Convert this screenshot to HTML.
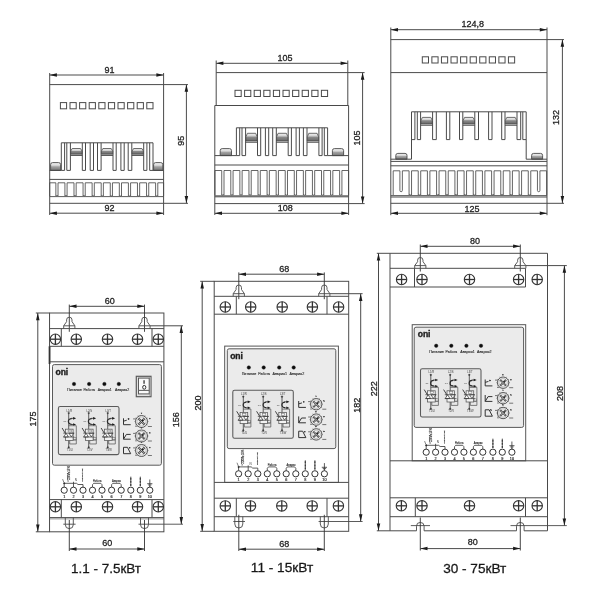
<!DOCTYPE html>
<html><head><meta charset="utf-8"><title>Dimensions</title>
<style>
html,body{margin:0;padding:0;background:#fff;}
body{width:600px;height:600px;overflow:hidden;font-family:"Liberation Sans",sans-serif;}
svg{display:block;font-family:"Liberation Sans",sans-serif;}
</style></head><body>
<svg width="600" height="600" viewBox="0 0 600 600">
<defs>
<linearGradient id="blk" x1="0" y1="0" x2="0" y2="1"><stop offset="0" stop-color="#f4f4f4"/><stop offset="0.35" stop-color="#d0d0d0"/><stop offset="0.5" stop-color="#8a8a8a"/><stop offset="1" stop-color="#666"/></linearGradient>
<linearGradient id="bmp" x1="0" y1="0" x2="0" y2="1"><stop offset="0" stop-color="#f6f6f6"/><stop offset="0.35" stop-color="#d8d8d8"/><stop offset="0.55" stop-color="#a0a0a0"/><stop offset="1" stop-color="#777"/></linearGradient>
<filter id="soft" x="0" y="0" width="600" height="600" filterUnits="userSpaceOnUse"><feGaussianBlur stdDeviation="0.32"/></filter>
</defs>
<rect width="600" height="600" fill="#fff"/>
<g filter="url(#soft)">
<g fill="none" stroke-linecap="butt">
<rect x="49.7" y="84.6" width="113.9" height="118.7" rx="0" fill="none" stroke="#4a4a4a" stroke-width="1"/>
<line x1="49.7" y1="73" x2="49.7" y2="84.6" stroke="#4a4a4a" stroke-width="1"/>
<line x1="163.6" y1="73" x2="163.6" y2="84.6" stroke="#4a4a4a" stroke-width="1"/>
<line x1="49.7" y1="75" x2="163.6" y2="75" stroke="#4a4a4a" stroke-width="1"/>
<polygon points="49.7,75 56.9,73.25 56.9,76.75" fill="#1a1a1a"/>
<polygon points="163.6,75 156.4,73.25 156.4,76.75" fill="#1a1a1a"/>
<text x="109.5" y="72.9" font-size="9" text-anchor="middle" font-weight="normal" fill="#222" stroke="#222" stroke-width="0.28">91</text>
<rect x="60.4" y="102.6" width="6.2" height="6.2" rx="0" fill="none" stroke="#4a4a4a" stroke-width="1"/>
<rect x="70" y="102.6" width="6.2" height="6.2" rx="0" fill="none" stroke="#4a4a4a" stroke-width="1"/>
<rect x="79.6" y="102.6" width="6.2" height="6.2" rx="0" fill="none" stroke="#4a4a4a" stroke-width="1"/>
<rect x="89.2" y="102.6" width="6.2" height="6.2" rx="0" fill="none" stroke="#4a4a4a" stroke-width="1"/>
<rect x="98.8" y="102.6" width="6.2" height="6.2" rx="0" fill="none" stroke="#4a4a4a" stroke-width="1"/>
<rect x="108.4" y="102.6" width="6.2" height="6.2" rx="0" fill="none" stroke="#4a4a4a" stroke-width="1"/>
<rect x="118" y="102.6" width="6.2" height="6.2" rx="0" fill="none" stroke="#4a4a4a" stroke-width="1"/>
<rect x="127.6" y="102.6" width="6.2" height="6.2" rx="0" fill="none" stroke="#4a4a4a" stroke-width="1"/>
<rect x="137.2" y="102.6" width="6.2" height="6.2" rx="0" fill="none" stroke="#4a4a4a" stroke-width="1"/>
<rect x="146.8" y="102.6" width="6.2" height="6.2" rx="0" fill="none" stroke="#4a4a4a" stroke-width="1"/>
<line x1="61.3" y1="142.8" x2="153" y2="142.8" stroke="#4a4a4a" stroke-width="1"/>
<line x1="61.3" y1="142.8" x2="61.3" y2="170.4" stroke="#4a4a4a" stroke-width="1"/>
<line x1="64.6" y1="142.8" x2="64.6" y2="170.4" stroke="#4a4a4a" stroke-width="1"/>
<line x1="61.3" y1="170.4" x2="64.6" y2="170.4" stroke="#4a4a4a" stroke-width="1"/>
<line x1="153" y1="142.8" x2="153" y2="170.4" stroke="#4a4a4a" stroke-width="1"/>
<line x1="149.7" y1="142.8" x2="149.7" y2="170.4" stroke="#4a4a4a" stroke-width="1"/>
<line x1="149.7" y1="170.4" x2="153" y2="170.4" stroke="#4a4a4a" stroke-width="1"/>
<path d="M66.8 142.8V170.4H70.4V142.8" fill="none" stroke="#4a4a4a" stroke-width="1"/>
<path d="M82.3 142.8V170.4H85.5V142.8" fill="none" stroke="#4a4a4a" stroke-width="1"/>
<path d="M90.2 142.8V170.4H93.5V142.8" fill="none" stroke="#4a4a4a" stroke-width="1"/>
<path d="M97.5 142.8V170.4H101.1V142.8" fill="none" stroke="#4a4a4a" stroke-width="1"/>
<path d="M113 142.8V170.4H116.2V142.8" fill="none" stroke="#4a4a4a" stroke-width="1"/>
<path d="M120.9 142.8V170.4H124.2V142.8" fill="none" stroke="#4a4a4a" stroke-width="1"/>
<path d="M128.2 142.8V170.4H131.8V142.8" fill="none" stroke="#4a4a4a" stroke-width="1"/>
<path d="M143.7 142.8V170.4H146.9V142.8" fill="none" stroke="#4a4a4a" stroke-width="1"/>
<path d="M70.7 154.2V151.06L72.2 148.5H80.5L82 151.06V154.2Z" fill="url(#blk)" stroke="#4a4a4a" stroke-width="0.8"/>
<line x1="70.4" y1="155.5" x2="82.3" y2="155.5" stroke="#4a4a4a" stroke-width="0.9"/>
<path d="M101.4 154.2V151.06L102.9 148.5H111.2L112.7 151.06V154.2Z" fill="url(#blk)" stroke="#4a4a4a" stroke-width="0.8"/>
<line x1="101.1" y1="155.5" x2="113" y2="155.5" stroke="#4a4a4a" stroke-width="0.9"/>
<path d="M132.1 154.2V151.06L133.6 148.5H141.9L143.4 151.06V154.2Z" fill="url(#blk)" stroke="#4a4a4a" stroke-width="0.8"/>
<line x1="131.8" y1="155.5" x2="143.7" y2="155.5" stroke="#4a4a4a" stroke-width="0.9"/>
<path d="M50.6 170.4V164.6Q50.6 162.6 52.6 162.6H58.6Q60.6 162.6 60.6 164.6V170.4Z" fill="url(#bmp)" stroke="#4a4a4a" stroke-width="0.9"/>
<path d="M153.6 170.4V164.6Q153.6 162.6 155.6 162.6H160.8Q162.8 162.6 162.8 164.6V170.4Z" fill="url(#bmp)" stroke="#4a4a4a" stroke-width="0.9"/>
<line x1="49.7" y1="170.4" x2="61.3" y2="170.4" stroke="#4a4a4a" stroke-width="1"/>
<line x1="153" y1="170.4" x2="163.6" y2="170.4" stroke="#4a4a4a" stroke-width="1"/>
<line x1="49.7" y1="179.4" x2="163.6" y2="179.4" stroke="#4a4a4a" stroke-width="1"/>
<path d="M49.7 196V182.8H55.85V196" fill="none" stroke="#4a4a4a" stroke-width="0.85"/>
<path d="M55.85 195.2Q56.94 196.6 58.02 195.2" fill="none" stroke="#4a4a4a" stroke-width="0.7"/>
<path d="M58.02 196V182.8H64.92V196" fill="none" stroke="#4a4a4a" stroke-width="0.85"/>
<path d="M64.92 195.2Q66 196.6 67.09 195.2" fill="none" stroke="#4a4a4a" stroke-width="0.7"/>
<path d="M67.09 196V182.8H73.99V196" fill="none" stroke="#4a4a4a" stroke-width="0.85"/>
<path d="M73.99 195.2Q75.08 196.6 76.16 195.2" fill="none" stroke="#4a4a4a" stroke-width="0.7"/>
<path d="M76.16 196V182.8H83.06V196" fill="none" stroke="#4a4a4a" stroke-width="0.85"/>
<path d="M83.06 195.2Q84.14 196.6 85.23 195.2" fill="none" stroke="#4a4a4a" stroke-width="0.7"/>
<path d="M85.23 196V182.8H92.13V196" fill="none" stroke="#4a4a4a" stroke-width="0.85"/>
<path d="M92.13 195.2Q93.22 196.6 94.3 195.2" fill="none" stroke="#4a4a4a" stroke-width="0.7"/>
<path d="M94.3 196V182.8H101.2V196" fill="none" stroke="#4a4a4a" stroke-width="0.85"/>
<path d="M101.2 195.2Q102.29 196.6 103.37 195.2" fill="none" stroke="#4a4a4a" stroke-width="0.7"/>
<path d="M103.37 196V182.8H110.27V196" fill="none" stroke="#4a4a4a" stroke-width="0.85"/>
<path d="M110.27 195.2Q111.36 196.6 112.44 195.2" fill="none" stroke="#4a4a4a" stroke-width="0.7"/>
<path d="M112.44 196V182.8H119.34V196" fill="none" stroke="#4a4a4a" stroke-width="0.85"/>
<path d="M119.34 195.2Q120.42 196.6 121.51 195.2" fill="none" stroke="#4a4a4a" stroke-width="0.7"/>
<path d="M121.51 196V182.8H128.41V196" fill="none" stroke="#4a4a4a" stroke-width="0.85"/>
<path d="M128.41 195.2Q129.5 196.6 130.58 195.2" fill="none" stroke="#4a4a4a" stroke-width="0.7"/>
<path d="M130.58 196V182.8H137.48V196" fill="none" stroke="#4a4a4a" stroke-width="0.85"/>
<path d="M137.48 195.2Q138.56 196.6 139.65 195.2" fill="none" stroke="#4a4a4a" stroke-width="0.7"/>
<path d="M139.65 196V182.8H146.55V196" fill="none" stroke="#4a4a4a" stroke-width="0.85"/>
<path d="M146.55 195.2Q147.64 196.6 148.72 195.2" fill="none" stroke="#4a4a4a" stroke-width="0.7"/>
<path d="M148.72 196V182.8H155.62V196" fill="none" stroke="#4a4a4a" stroke-width="0.85"/>
<path d="M155.62 195.2Q156.71 196.6 157.79 195.2" fill="none" stroke="#4a4a4a" stroke-width="0.7"/>
<path d="M157.79 196V182.8H163.6V196" fill="none" stroke="#4a4a4a" stroke-width="0.85"/>
<line x1="49.7" y1="196.6" x2="163.6" y2="196.6" stroke="#4a4a4a" stroke-width="0.9"/>
<line x1="49.7" y1="203.3" x2="49.7" y2="215" stroke="#4a4a4a" stroke-width="1"/>
<line x1="163.6" y1="203.3" x2="163.6" y2="215" stroke="#4a4a4a" stroke-width="1"/>
<line x1="49.7" y1="213.2" x2="163.6" y2="213.2" stroke="#4a4a4a" stroke-width="1"/>
<polygon points="49.7,213.2 56.9,211.45 56.9,214.95" fill="#1a1a1a"/>
<polygon points="163.6,213.2 156.4,211.45 156.4,214.95" fill="#1a1a1a"/>
<text x="109.6" y="211.3" font-size="9" text-anchor="middle" font-weight="normal" fill="#222" stroke="#222" stroke-width="0.28">92</text>
<line x1="163.6" y1="84.6" x2="188" y2="84.6" stroke="#4a4a4a" stroke-width="1"/>
<line x1="163.6" y1="203.3" x2="188" y2="203.3" stroke="#4a4a4a" stroke-width="1"/>
<line x1="186.4" y1="84.6" x2="186.4" y2="203.3" stroke="#4a4a4a" stroke-width="1"/>
<polygon points="186.4,84.6 184.65,91.8 188.15,91.8" fill="#1a1a1a"/>
<polygon points="186.4,203.3 184.65,196.1 188.15,196.1" fill="#1a1a1a"/>
<text x="183.7" y="140.75" font-size="9" text-anchor="middle" font-weight="normal" fill="#222" transform="rotate(-90 183.7 140.75)" stroke="#222" stroke-width="0.28">95</text>
<line x1="216.2" y1="72.6" x2="347.8" y2="72.6" stroke="#4a4a4a" stroke-width="1"/>
<line x1="216.2" y1="60.5" x2="216.2" y2="105.5" stroke="#4a4a4a" stroke-width="1"/>
<line x1="347.8" y1="60.5" x2="347.8" y2="105.5" stroke="#4a4a4a" stroke-width="1"/>
<line x1="214.8" y1="105.5" x2="348.6" y2="105.5" stroke="#4a4a4a" stroke-width="1"/>
<line x1="214.8" y1="105.5" x2="214.8" y2="215" stroke="#4a4a4a" stroke-width="1"/>
<line x1="348.6" y1="105.5" x2="348.6" y2="215" stroke="#4a4a4a" stroke-width="1"/>
<line x1="214.8" y1="203.6" x2="348.6" y2="203.6" stroke="#4a4a4a" stroke-width="1"/>
<line x1="216.2" y1="63.3" x2="347.8" y2="63.3" stroke="#4a4a4a" stroke-width="1"/>
<polygon points="216.2,63.3 223.4,61.55 223.4,65.05" fill="#1a1a1a"/>
<polygon points="347.8,63.3 340.6,61.55 340.6,65.05" fill="#1a1a1a"/>
<text x="285.1" y="60.7" font-size="9" text-anchor="middle" font-weight="normal" fill="#222" stroke="#222" stroke-width="0.28">105</text>
<rect x="235" y="90.3" width="6.2" height="6.2" rx="0" fill="none" stroke="#4a4a4a" stroke-width="1"/>
<rect x="244.6" y="90.3" width="6.2" height="6.2" rx="0" fill="none" stroke="#4a4a4a" stroke-width="1"/>
<rect x="254.2" y="90.3" width="6.2" height="6.2" rx="0" fill="none" stroke="#4a4a4a" stroke-width="1"/>
<rect x="263.8" y="90.3" width="6.2" height="6.2" rx="0" fill="none" stroke="#4a4a4a" stroke-width="1"/>
<rect x="273.4" y="90.3" width="6.2" height="6.2" rx="0" fill="none" stroke="#4a4a4a" stroke-width="1"/>
<rect x="283" y="90.3" width="6.2" height="6.2" rx="0" fill="none" stroke="#4a4a4a" stroke-width="1"/>
<rect x="292.6" y="90.3" width="6.2" height="6.2" rx="0" fill="none" stroke="#4a4a4a" stroke-width="1"/>
<rect x="302.2" y="90.3" width="6.2" height="6.2" rx="0" fill="none" stroke="#4a4a4a" stroke-width="1"/>
<rect x="311.8" y="90.3" width="6.2" height="6.2" rx="0" fill="none" stroke="#4a4a4a" stroke-width="1"/>
<rect x="321.4" y="90.3" width="6.2" height="6.2" rx="0" fill="none" stroke="#4a4a4a" stroke-width="1"/>
<line x1="236.4" y1="127.8" x2="327.6" y2="127.8" stroke="#4a4a4a" stroke-width="1"/>
<line x1="236.4" y1="127.8" x2="236.4" y2="155.6" stroke="#4a4a4a" stroke-width="1"/>
<line x1="239.7" y1="127.8" x2="239.7" y2="155.6" stroke="#4a4a4a" stroke-width="1"/>
<line x1="236.4" y1="155.6" x2="239.7" y2="155.6" stroke="#4a4a4a" stroke-width="1"/>
<line x1="327.6" y1="127.8" x2="327.6" y2="155.6" stroke="#4a4a4a" stroke-width="1"/>
<line x1="324.3" y1="127.8" x2="324.3" y2="155.6" stroke="#4a4a4a" stroke-width="1"/>
<line x1="324.3" y1="155.6" x2="327.6" y2="155.6" stroke="#4a4a4a" stroke-width="1"/>
<path d="M242 127.8V155.6H245.6V127.8" fill="none" stroke="#4a4a4a" stroke-width="1"/>
<path d="M257.5 127.8V155.6H260.7V127.8" fill="none" stroke="#4a4a4a" stroke-width="1"/>
<path d="M265.4 127.8V155.6H268.7V127.8" fill="none" stroke="#4a4a4a" stroke-width="1"/>
<path d="M272.7 127.8V155.6H276.3V127.8" fill="none" stroke="#4a4a4a" stroke-width="1"/>
<path d="M288.2 127.8V155.6H291.4V127.8" fill="none" stroke="#4a4a4a" stroke-width="1"/>
<path d="M296.1 127.8V155.6H299.4V127.8" fill="none" stroke="#4a4a4a" stroke-width="1"/>
<path d="M303.4 127.8V155.6H307V127.8" fill="none" stroke="#4a4a4a" stroke-width="1"/>
<path d="M318.9 127.8V155.6H322.1V127.8" fill="none" stroke="#4a4a4a" stroke-width="1"/>
<path d="M245.9 141V136.77L247.4 133.3H255.7L257.2 136.77V141Z" fill="url(#blk)" stroke="#4a4a4a" stroke-width="0.8"/>
<line x1="245.6" y1="142.3" x2="257.5" y2="142.3" stroke="#4a4a4a" stroke-width="0.9"/>
<path d="M276.6 141V136.77L278.1 133.3H286.4L287.9 136.77V141Z" fill="url(#blk)" stroke="#4a4a4a" stroke-width="0.8"/>
<line x1="276.3" y1="142.3" x2="288.2" y2="142.3" stroke="#4a4a4a" stroke-width="0.9"/>
<path d="M307.3 141V136.77L308.8 133.3H317.1L318.6 136.77V141Z" fill="url(#blk)" stroke="#4a4a4a" stroke-width="0.8"/>
<line x1="307" y1="142.3" x2="318.9" y2="142.3" stroke="#4a4a4a" stroke-width="0.9"/>
<path d="M220.2 155.6V150.6Q220.2 148.6 222.2 148.6H229.5Q231.5 148.6 231.5 150.6V155.6Z" fill="url(#bmp)" stroke="#4a4a4a" stroke-width="0.9"/>
<path d="M332.4 155.6V150.6Q332.4 148.6 334.4 148.6H341.6Q343.6 148.6 343.6 150.6V155.6Z" fill="url(#bmp)" stroke="#4a4a4a" stroke-width="0.9"/>
<line x1="214.8" y1="155.6" x2="236.4" y2="155.6" stroke="#4a4a4a" stroke-width="1"/>
<line x1="327.6" y1="155.6" x2="348.6" y2="155.6" stroke="#4a4a4a" stroke-width="1"/>
<line x1="214.8" y1="165" x2="348.6" y2="165" stroke="#4a4a4a" stroke-width="1"/>
<path d="M214.93 195.2V170.5H221.73V195.2" fill="none" stroke="#4a4a4a" stroke-width="0.85"/>
<path d="M221.73 194.4Q222.87 195.8 224 194.4" fill="none" stroke="#4a4a4a" stroke-width="0.7"/>
<path d="M224 195.2V170.5H230.8V195.2" fill="none" stroke="#4a4a4a" stroke-width="0.85"/>
<path d="M230.8 194.4Q231.94 195.8 233.07 194.4" fill="none" stroke="#4a4a4a" stroke-width="0.7"/>
<path d="M233.07 195.2V170.5H239.87V195.2" fill="none" stroke="#4a4a4a" stroke-width="0.85"/>
<path d="M239.87 194.4Q241 195.8 242.14 194.4" fill="none" stroke="#4a4a4a" stroke-width="0.7"/>
<path d="M242.14 195.2V170.5H248.94V195.2" fill="none" stroke="#4a4a4a" stroke-width="0.85"/>
<path d="M248.94 194.4Q250.08 195.8 251.21 194.4" fill="none" stroke="#4a4a4a" stroke-width="0.7"/>
<path d="M251.21 195.2V170.5H258.01V195.2" fill="none" stroke="#4a4a4a" stroke-width="0.85"/>
<path d="M258.01 194.4Q259.14 195.8 260.28 194.4" fill="none" stroke="#4a4a4a" stroke-width="0.7"/>
<path d="M260.28 195.2V170.5H267.08V195.2" fill="none" stroke="#4a4a4a" stroke-width="0.85"/>
<path d="M267.08 194.4Q268.22 195.8 269.35 194.4" fill="none" stroke="#4a4a4a" stroke-width="0.7"/>
<path d="M269.35 195.2V170.5H276.15V195.2" fill="none" stroke="#4a4a4a" stroke-width="0.85"/>
<path d="M276.15 194.4Q277.29 195.8 278.42 194.4" fill="none" stroke="#4a4a4a" stroke-width="0.7"/>
<path d="M278.42 195.2V170.5H285.22V195.2" fill="none" stroke="#4a4a4a" stroke-width="0.85"/>
<path d="M285.22 194.4Q286.36 195.8 287.49 194.4" fill="none" stroke="#4a4a4a" stroke-width="0.7"/>
<path d="M287.49 195.2V170.5H294.29V195.2" fill="none" stroke="#4a4a4a" stroke-width="0.85"/>
<path d="M294.29 194.4Q295.43 195.8 296.56 194.4" fill="none" stroke="#4a4a4a" stroke-width="0.7"/>
<path d="M296.56 195.2V170.5H303.36V195.2" fill="none" stroke="#4a4a4a" stroke-width="0.85"/>
<path d="M303.36 194.4Q304.5 195.8 305.63 194.4" fill="none" stroke="#4a4a4a" stroke-width="0.7"/>
<path d="M305.63 195.2V170.5H312.43V195.2" fill="none" stroke="#4a4a4a" stroke-width="0.85"/>
<path d="M312.43 194.4Q313.56 195.8 314.7 194.4" fill="none" stroke="#4a4a4a" stroke-width="0.7"/>
<path d="M314.7 195.2V170.5H321.5V195.2" fill="none" stroke="#4a4a4a" stroke-width="0.85"/>
<path d="M321.5 194.4Q322.64 195.8 323.77 194.4" fill="none" stroke="#4a4a4a" stroke-width="0.7"/>
<path d="M323.77 195.2V170.5H330.57V195.2" fill="none" stroke="#4a4a4a" stroke-width="0.85"/>
<path d="M330.57 194.4Q331.7 195.8 332.84 194.4" fill="none" stroke="#4a4a4a" stroke-width="0.7"/>
<path d="M332.84 195.2V170.5H339.64V195.2" fill="none" stroke="#4a4a4a" stroke-width="0.85"/>
<path d="M339.64 194.4Q340.78 195.8 341.91 194.4" fill="none" stroke="#4a4a4a" stroke-width="0.7"/>
<path d="M341.91 195.2V170.5H348.6V195.2" fill="none" stroke="#4a4a4a" stroke-width="0.85"/>
<line x1="214.8" y1="195.8" x2="348.6" y2="195.8" stroke="#4a4a4a" stroke-width="0.9"/>
<line x1="214.8" y1="196.8" x2="348.6" y2="196.8" stroke="#4a4a4a" stroke-width="1"/>
<line x1="214.8" y1="213.3" x2="348.6" y2="213.3" stroke="#4a4a4a" stroke-width="1"/>
<polygon points="214.8,213.3 222,211.55 222,215.05" fill="#1a1a1a"/>
<polygon points="348.6,213.3 341.4,211.55 341.4,215.05" fill="#1a1a1a"/>
<text x="285.2" y="211.3" font-size="9" text-anchor="middle" font-weight="normal" fill="#222" stroke="#222" stroke-width="0.28">108</text>
<line x1="347.8" y1="72.6" x2="364.6" y2="72.6" stroke="#4a4a4a" stroke-width="1"/>
<line x1="348.6" y1="203.6" x2="364.6" y2="203.6" stroke="#4a4a4a" stroke-width="1"/>
<line x1="362.6" y1="72.6" x2="362.6" y2="203.6" stroke="#4a4a4a" stroke-width="1"/>
<polygon points="362.6,72.6 360.85,79.8 364.35,79.8" fill="#1a1a1a"/>
<polygon points="362.6,203.6 360.85,196.4 364.35,196.4" fill="#1a1a1a"/>
<text x="360.2" y="138" font-size="9" text-anchor="middle" font-weight="normal" fill="#222" transform="rotate(-90 360.2 138)" stroke="#222" stroke-width="0.28">105</text>
<rect x="390.8" y="39.6" width="156.2" height="163.7" rx="0" fill="none" stroke="#4a4a4a" stroke-width="1"/>
<line x1="390.8" y1="27.5" x2="390.8" y2="39.6" stroke="#4a4a4a" stroke-width="1"/>
<line x1="547" y1="27.5" x2="547" y2="39.6" stroke="#4a4a4a" stroke-width="1"/>
<line x1="390.8" y1="29.7" x2="547" y2="29.7" stroke="#4a4a4a" stroke-width="1"/>
<polygon points="390.8,29.7 398,27.95 398,31.45" fill="#1a1a1a"/>
<polygon points="547,29.7 539.8,27.95 539.8,31.45" fill="#1a1a1a"/>
<text x="472.85" y="27.4" font-size="9" text-anchor="middle" font-weight="normal" fill="#222" stroke="#222" stroke-width="0.28">124,8</text>
<line x1="390.8" y1="72.6" x2="547" y2="72.6" stroke="#4a4a4a" stroke-width="1"/>
<rect x="422.3" y="56.8" width="6.2" height="6.2" rx="0" fill="none" stroke="#4a4a4a" stroke-width="1"/>
<rect x="431.87" y="56.8" width="6.2" height="6.2" rx="0" fill="none" stroke="#4a4a4a" stroke-width="1"/>
<rect x="441.44" y="56.8" width="6.2" height="6.2" rx="0" fill="none" stroke="#4a4a4a" stroke-width="1"/>
<rect x="451.01" y="56.8" width="6.2" height="6.2" rx="0" fill="none" stroke="#4a4a4a" stroke-width="1"/>
<rect x="460.58" y="56.8" width="6.2" height="6.2" rx="0" fill="none" stroke="#4a4a4a" stroke-width="1"/>
<rect x="470.15" y="56.8" width="6.2" height="6.2" rx="0" fill="none" stroke="#4a4a4a" stroke-width="1"/>
<rect x="479.72" y="56.8" width="6.2" height="6.2" rx="0" fill="none" stroke="#4a4a4a" stroke-width="1"/>
<rect x="489.29" y="56.8" width="6.2" height="6.2" rx="0" fill="none" stroke="#4a4a4a" stroke-width="1"/>
<rect x="498.86" y="56.8" width="6.2" height="6.2" rx="0" fill="none" stroke="#4a4a4a" stroke-width="1"/>
<rect x="508.43" y="56.8" width="6.2" height="6.2" rx="0" fill="none" stroke="#4a4a4a" stroke-width="1"/>
<line x1="411.5" y1="111.8" x2="526.2" y2="111.8" stroke="#4a4a4a" stroke-width="1"/>
<line x1="411.5" y1="111.8" x2="411.5" y2="159.2" stroke="#4a4a4a" stroke-width="1"/>
<line x1="414.9" y1="111.8" x2="414.9" y2="139.6" stroke="#4a4a4a" stroke-width="1"/>
<line x1="411.7" y1="139.6" x2="414.9" y2="139.6" stroke="#4a4a4a" stroke-width="1"/>
<line x1="526.2" y1="111.8" x2="526.2" y2="159.2" stroke="#4a4a4a" stroke-width="1"/>
<line x1="522.8" y1="111.8" x2="522.8" y2="139.6" stroke="#4a4a4a" stroke-width="1"/>
<line x1="522.8" y1="139.6" x2="526" y2="139.6" stroke="#4a4a4a" stroke-width="1"/>
<path d="M417.3 111.8V139.6H420.6V111.8" fill="none" stroke="#4a4a4a" stroke-width="1"/>
<path d="M432.6 111.8V139.6H436.3V111.8" fill="none" stroke="#4a4a4a" stroke-width="1"/>
<path d="M446.4 111.8V139.6H449.8V111.8" fill="none" stroke="#4a4a4a" stroke-width="1"/>
<path d="M459.5 111.8V139.6H462.8V111.8" fill="none" stroke="#4a4a4a" stroke-width="1"/>
<path d="M474.8 111.8V139.6H478.5V111.8" fill="none" stroke="#4a4a4a" stroke-width="1"/>
<path d="M488.6 111.8V139.6H492V111.8" fill="none" stroke="#4a4a4a" stroke-width="1"/>
<path d="M501.7 111.8V139.6H505V111.8" fill="none" stroke="#4a4a4a" stroke-width="1"/>
<path d="M517 111.8V139.6H520.7V111.8" fill="none" stroke="#4a4a4a" stroke-width="1"/>
<path d="M420.9 124V120.37L422.4 117.4H430.8L432.3 120.37V124Z" fill="url(#blk)" stroke="#4a4a4a" stroke-width="0.8"/>
<line x1="420.6" y1="125.3" x2="432.6" y2="125.3" stroke="#4a4a4a" stroke-width="0.9"/>
<path d="M463.1 124V120.37L464.6 117.4H473L474.5 120.37V124Z" fill="url(#blk)" stroke="#4a4a4a" stroke-width="0.8"/>
<line x1="462.8" y1="125.3" x2="474.8" y2="125.3" stroke="#4a4a4a" stroke-width="0.9"/>
<path d="M505.3 124V120.37L506.8 117.4H515.2L516.7 120.37V124Z" fill="url(#blk)" stroke="#4a4a4a" stroke-width="0.8"/>
<line x1="505" y1="125.3" x2="517" y2="125.3" stroke="#4a4a4a" stroke-width="0.9"/>
<path d="M395.8 159.2V155.4Q395.8 153.4 397.8 153.4H405Q407 153.4 407 155.4V159.2Z" fill="url(#bmp)" stroke="#4a4a4a" stroke-width="0.9"/>
<path d="M531.6 159.2V155.4Q531.6 153.4 533.6 153.4H540.6Q542.6 153.4 542.6 155.4V159.2Z" fill="url(#bmp)" stroke="#4a4a4a" stroke-width="0.9"/>
<line x1="390.8" y1="159.2" x2="411.5" y2="159.2" stroke="#4a4a4a" stroke-width="1"/>
<line x1="526.2" y1="159.2" x2="547" y2="159.2" stroke="#4a4a4a" stroke-width="1"/>
<line x1="390.8" y1="161.4" x2="547" y2="161.4" stroke="#4a4a4a" stroke-width="1"/>
<line x1="390.8" y1="165.8" x2="547" y2="165.8" stroke="#4a4a4a" stroke-width="1"/>
<path d="M393.2 195V170.8H399.9V190.46A1.23 1.23 0 0 0 402.37 190.46V170.8H409.07V195" fill="none" stroke="#4a4a4a" stroke-width="0.85"/>
<path d="M409.07 194.2Q410.31 195.6 411.54 194.2" fill="none" stroke="#4a4a4a" stroke-width="0.7"/>
<path d="M411.54 195V170.8H418.24V195" fill="none" stroke="#4a4a4a" stroke-width="0.85"/>
<path d="M418.24 194.2Q419.47 195.6 420.71 194.2" fill="none" stroke="#4a4a4a" stroke-width="0.7"/>
<path d="M420.71 195V170.8H427.41V195" fill="none" stroke="#4a4a4a" stroke-width="0.85"/>
<path d="M427.41 194.2Q428.64 195.6 429.88 194.2" fill="none" stroke="#4a4a4a" stroke-width="0.7"/>
<path d="M429.88 195V170.8H436.58V195" fill="none" stroke="#4a4a4a" stroke-width="0.85"/>
<path d="M436.58 194.2Q437.81 195.6 439.05 194.2" fill="none" stroke="#4a4a4a" stroke-width="0.7"/>
<path d="M439.05 195V170.8H445.75V195" fill="none" stroke="#4a4a4a" stroke-width="0.85"/>
<path d="M445.75 194.2Q446.99 195.6 448.22 194.2" fill="none" stroke="#4a4a4a" stroke-width="0.7"/>
<path d="M448.22 195V170.8H454.92V195" fill="none" stroke="#4a4a4a" stroke-width="0.85"/>
<path d="M454.92 194.2Q456.15 195.6 457.39 194.2" fill="none" stroke="#4a4a4a" stroke-width="0.7"/>
<path d="M457.39 195V170.8H464.09V195" fill="none" stroke="#4a4a4a" stroke-width="0.85"/>
<path d="M464.09 194.2Q465.32 195.6 466.56 194.2" fill="none" stroke="#4a4a4a" stroke-width="0.7"/>
<path d="M466.56 195V170.8H473.26V195" fill="none" stroke="#4a4a4a" stroke-width="0.85"/>
<path d="M473.26 194.2Q474.5 195.6 475.73 194.2" fill="none" stroke="#4a4a4a" stroke-width="0.7"/>
<path d="M475.73 195V170.8H482.43V195" fill="none" stroke="#4a4a4a" stroke-width="0.85"/>
<path d="M482.43 194.2Q483.67 195.6 484.9 194.2" fill="none" stroke="#4a4a4a" stroke-width="0.7"/>
<path d="M484.9 195V170.8H491.6V195" fill="none" stroke="#4a4a4a" stroke-width="0.85"/>
<path d="M491.6 194.2Q492.83 195.6 494.07 194.2" fill="none" stroke="#4a4a4a" stroke-width="0.7"/>
<path d="M494.07 195V170.8H500.77V195" fill="none" stroke="#4a4a4a" stroke-width="0.85"/>
<path d="M500.77 194.2Q502 195.6 503.24 194.2" fill="none" stroke="#4a4a4a" stroke-width="0.7"/>
<path d="M503.24 195V170.8H509.94V195" fill="none" stroke="#4a4a4a" stroke-width="0.85"/>
<path d="M509.94 194.2Q511.18 195.6 512.41 194.2" fill="none" stroke="#4a4a4a" stroke-width="0.7"/>
<path d="M512.41 195V170.8H519.11V195" fill="none" stroke="#4a4a4a" stroke-width="0.85"/>
<path d="M519.11 194.2Q520.35 195.6 521.58 194.2" fill="none" stroke="#4a4a4a" stroke-width="0.7"/>
<path d="M521.58 195V170.8H528.28V195" fill="none" stroke="#4a4a4a" stroke-width="0.85"/>
<path d="M528.28 194.2Q529.51 195.6 530.75 194.2" fill="none" stroke="#4a4a4a" stroke-width="0.7"/>
<path d="M530.75 195V170.8H537.45V190.46A1.23 1.23 0 0 0 539.92 190.46V170.8H546.62V195" fill="none" stroke="#4a4a4a" stroke-width="0.85"/>
<line x1="390.8" y1="195.6" x2="547" y2="195.6" stroke="#4a4a4a" stroke-width="0.9"/>
<line x1="390.8" y1="197" x2="547" y2="197" stroke="#4a4a4a" stroke-width="1"/>
<line x1="390.8" y1="203.3" x2="390.8" y2="215.2" stroke="#4a4a4a" stroke-width="1"/>
<line x1="547" y1="203.3" x2="547" y2="215.2" stroke="#4a4a4a" stroke-width="1"/>
<line x1="390.8" y1="213.3" x2="547" y2="213.3" stroke="#4a4a4a" stroke-width="1"/>
<polygon points="390.8,213.3 398,211.55 398,215.05" fill="#1a1a1a"/>
<polygon points="547,213.3 539.8,211.55 539.8,215.05" fill="#1a1a1a"/>
<text x="471.9" y="211.5" font-size="9" text-anchor="middle" font-weight="normal" fill="#222" stroke="#222" stroke-width="0.28">125</text>
<line x1="547" y1="39.6" x2="564" y2="39.6" stroke="#4a4a4a" stroke-width="1"/>
<line x1="547" y1="203.3" x2="564" y2="203.3" stroke="#4a4a4a" stroke-width="1"/>
<line x1="562.4" y1="39.6" x2="562.4" y2="203.3" stroke="#4a4a4a" stroke-width="1"/>
<polygon points="562.4,39.6 560.65,46.8 564.15,46.8" fill="#1a1a1a"/>
<polygon points="562.4,203.3 560.65,196.1 564.15,196.1" fill="#1a1a1a"/>
<text x="559.2" y="117.5" font-size="9" text-anchor="middle" font-weight="normal" fill="#222" transform="rotate(-90 559.2 117.5)" stroke="#222" stroke-width="0.28">132</text>
</g>
<g fill="none">
<rect x="49.55" y="313" width="114.35" height="218.8" rx="0" fill="none" stroke="#4a4a4a" stroke-width="1"/>
<line x1="49.55" y1="346.3" x2="49.55" y2="364" stroke="#333" stroke-width="1.8"/>
<line x1="69.3" y1="304.6" x2="69.3" y2="331.8" stroke="#333" stroke-width="0.9"/>
<line x1="144.5" y1="304.6" x2="144.5" y2="331.8" stroke="#333" stroke-width="0.9"/>
<line x1="69.3" y1="306.3" x2="144.5" y2="306.3" stroke="#4a4a4a" stroke-width="1"/>
<polygon points="69.3,306.3 76.5,304.55 76.5,308.05" fill="#1a1a1a"/>
<polygon points="144.5,306.3 137.3,304.55 137.3,308.05" fill="#1a1a1a"/>
<text x="109.85" y="304.2" font-size="9" text-anchor="middle" font-weight="normal" fill="#222" stroke="#222" stroke-width="0.28">60</text>
<path d="M63.7 325.8L66.6 321.67V319.9A2.7 2.7 0 0 1 72 319.9V321.67L74.9 325.8Z" fill="none" stroke="#4a4a4a" stroke-width="0.9"/>
<line x1="63.7" y1="325.8" x2="63.7" y2="328.6" stroke="#4a4a4a" stroke-width="0.9"/>
<line x1="74.9" y1="325.8" x2="74.9" y2="328.6" stroke="#4a4a4a" stroke-width="0.9"/>
<path d="M138.9 325.8L141.8 321.67V319.9A2.7 2.7 0 0 1 147.2 319.9V321.67L150.1 325.8Z" fill="none" stroke="#4a4a4a" stroke-width="0.9"/>
<line x1="138.9" y1="325.8" x2="138.9" y2="328.6" stroke="#4a4a4a" stroke-width="0.9"/>
<line x1="150.1" y1="325.8" x2="150.1" y2="328.6" stroke="#4a4a4a" stroke-width="0.9"/>
<line x1="150.1" y1="325.8" x2="183" y2="325.8" stroke="#4a4a4a" stroke-width="1"/>
<line x1="49.55" y1="328.6" x2="163.9" y2="328.6" stroke="#4a4a4a" stroke-width="1"/>
<line x1="49.55" y1="346.3" x2="163.9" y2="346.3" stroke="#4a4a4a" stroke-width="1"/>
<line x1="61.3" y1="328.6" x2="61.3" y2="346.3" stroke="#4a4a4a" stroke-width="1"/>
<line x1="152" y1="328.6" x2="152" y2="346.3" stroke="#4a4a4a" stroke-width="1"/>
<circle cx="55.4" cy="339.2" r="5.2" fill="none" stroke="#333" stroke-width="1.1"/>
<line x1="50.2" y1="339.2" x2="60.6" y2="339.2" stroke="#333" stroke-width="1.3"/>
<line x1="55.4" y1="334" x2="55.4" y2="344.4" stroke="#333" stroke-width="1.3"/>
<circle cx="76.3" cy="339.2" r="5.2" fill="none" stroke="#333" stroke-width="1.1"/>
<line x1="71.1" y1="339.2" x2="81.5" y2="339.2" stroke="#333" stroke-width="1.3"/>
<line x1="76.3" y1="334" x2="76.3" y2="344.4" stroke="#333" stroke-width="1.3"/>
<circle cx="107.5" cy="339.2" r="5.2" fill="none" stroke="#333" stroke-width="1.1"/>
<line x1="102.3" y1="339.2" x2="112.7" y2="339.2" stroke="#333" stroke-width="1.3"/>
<line x1="107.5" y1="334" x2="107.5" y2="344.4" stroke="#333" stroke-width="1.3"/>
<circle cx="137.5" cy="339.2" r="5.2" fill="none" stroke="#333" stroke-width="1.1"/>
<line x1="132.3" y1="339.2" x2="142.7" y2="339.2" stroke="#333" stroke-width="1.3"/>
<line x1="137.5" y1="334" x2="137.5" y2="344.4" stroke="#333" stroke-width="1.3"/>
<circle cx="158.3" cy="339.2" r="5.2" fill="none" stroke="#333" stroke-width="1.1"/>
<line x1="153.1" y1="339.2" x2="163.5" y2="339.2" stroke="#333" stroke-width="1.3"/>
<line x1="158.3" y1="334" x2="158.3" y2="344.4" stroke="#333" stroke-width="1.3"/>
<line x1="49.55" y1="361.8" x2="163.9" y2="361.8" stroke="#4a4a4a" stroke-width="1"/>
<rect x="52.5" y="364.6" width="108.9" height="100.6" rx="1.8" fill="#ebebeb" stroke="#5a5a5a" stroke-width="1"/>
<text x="55.6" y="374.5" font-size="8.6" text-anchor="start" font-weight="bold" fill="#1c1c1c" letter-spacing="-0.15" stroke="#1c1c1c" stroke-width="0.35">oni</text>
<circle cx="74" cy="384" r="1.75" fill="#111" stroke="#111" stroke-width="0.4"/>
<circle cx="89.1" cy="384" r="1.75" fill="#111" stroke="#111" stroke-width="0.4"/>
<circle cx="104.4" cy="384" r="1.75" fill="#111" stroke="#111" stroke-width="0.4"/>
<circle cx="118.8" cy="384" r="1.75" fill="#111" stroke="#111" stroke-width="0.4"/>
<text x="67" y="391" font-size="3.9" text-anchor="start" font-weight="normal" fill="#2a2a2a" textLength="14.7" lengthAdjust="spacingAndGlyphs" stroke="#2a2a2a" stroke-width="0.12">Питание</text>
<text x="83.4" y="391" font-size="3.9" text-anchor="start" font-weight="normal" fill="#2a2a2a" textLength="11.6" lengthAdjust="spacingAndGlyphs" stroke="#2a2a2a" stroke-width="0.12">Работа</text>
<text x="97.7" y="391" font-size="3.9" text-anchor="start" font-weight="normal" fill="#2a2a2a" textLength="14" lengthAdjust="spacingAndGlyphs" stroke="#2a2a2a" stroke-width="0.12">Авария1</text>
<text x="115" y="391" font-size="3.9" text-anchor="start" font-weight="normal" fill="#2a2a2a" textLength="14.2" lengthAdjust="spacingAndGlyphs" stroke="#2a2a2a" stroke-width="0.12">Авария2</text>
<rect x="58.4" y="406.4" width="60.6" height="48.2" rx="1.8" fill="#e7e7e7" stroke="#5a5a5a" stroke-width="1.05"/>
<line x1="68.7" y1="413" x2="68.7" y2="447.4" stroke="#3a3a3a" stroke-width="0.8"/>
<circle cx="68.7" cy="413" r="0.85" fill="#3a3a3a" stroke="#3a3a3a" stroke-width="0.3"/>
<circle cx="68.7" cy="447.4" r="0.85" fill="#3a3a3a" stroke="#3a3a3a" stroke-width="0.3"/>
<path d="M71.7 418.63A3.2 2.8 0 1 0 71.7 424.22" fill="none" stroke="#2a2a2a" stroke-width="1.15"/>
<line x1="71.1" y1="418.33" x2="73.7" y2="418.33" stroke="#2a2a2a" stroke-width="0.8"/>
<line x1="71.1" y1="424.52" x2="73.7" y2="424.52" stroke="#2a2a2a" stroke-width="0.8"/>
<polygon points="76.1,418.33 73.1,417.03 73.1,419.63" fill="#1a1a1a"/>
<polygon points="76.1,424.52 73.1,423.22 73.1,425.82" fill="#1a1a1a"/>
<text x="66.4" y="422.33" font-size="2.3" text-anchor="end" font-weight="normal" fill="#444">CT</text>
<path d="M68.7 425.73H76.3V443.96H69.7V439.76H76.3" fill="none" stroke="#555" stroke-width="0.75"/>
<rect x="65.5" y="429.17" width="7.6" height="11.35" rx="0" fill="#f2f2f2" stroke="#555" stroke-width="0.75"/>
<polygon points="63.7,436.94 66.1,433.24 68.4,436.94" fill="#fff" stroke="#333" stroke-width="0.7"/>
<polygon points="69,433.24 73.7,433.24 71.3,436.94" fill="#fff" stroke="#333" stroke-width="0.7"/>
<line x1="63.3" y1="433.14" x2="74.3" y2="433.14" stroke="#333" stroke-width="0.7"/>
<line x1="63.3" y1="437.04" x2="74.3" y2="437.04" stroke="#333" stroke-width="0.7"/>
<line x1="62.1" y1="427.97" x2="65.3" y2="433.24" stroke="#444" stroke-width="1"/>
<rect x="68.1" y="430.07" width="3.2" height="1.9" rx="0" fill="none" stroke="#666" stroke-width="0.5"/>
<rect x="73.3" y="437.32" width="2.8" height="2.8" rx="0" fill="none" stroke="#666" stroke-width="0.5"/>
<text x="69.3" y="411.5" font-size="2.7" text-anchor="middle" font-weight="normal" fill="#333">L1/R</text>
<text x="69.7" y="451" font-size="2.7" text-anchor="middle" font-weight="normal" fill="#333">T1/U</text>
<line x1="88.7" y1="413" x2="88.7" y2="447.4" stroke="#3a3a3a" stroke-width="0.8"/>
<circle cx="88.7" cy="413" r="0.85" fill="#3a3a3a" stroke="#3a3a3a" stroke-width="0.3"/>
<circle cx="88.7" cy="447.4" r="0.85" fill="#3a3a3a" stroke="#3a3a3a" stroke-width="0.3"/>
<path d="M91.7 418.63A3.2 2.8 0 1 0 91.7 424.22" fill="none" stroke="#2a2a2a" stroke-width="1.15"/>
<line x1="91.1" y1="418.33" x2="93.7" y2="418.33" stroke="#2a2a2a" stroke-width="0.8"/>
<line x1="91.1" y1="424.52" x2="93.7" y2="424.52" stroke="#2a2a2a" stroke-width="0.8"/>
<polygon points="96.1,418.33 93.1,417.03 93.1,419.63" fill="#1a1a1a"/>
<polygon points="96.1,424.52 93.1,423.22 93.1,425.82" fill="#1a1a1a"/>
<text x="86.4" y="422.33" font-size="2.3" text-anchor="end" font-weight="normal" fill="#444">CT</text>
<path d="M88.7 425.73H96.3V443.96H89.7V439.76H96.3" fill="none" stroke="#555" stroke-width="0.75"/>
<rect x="85.5" y="429.17" width="7.6" height="11.35" rx="0" fill="#f2f2f2" stroke="#555" stroke-width="0.75"/>
<polygon points="83.7,436.94 86.1,433.24 88.4,436.94" fill="#fff" stroke="#333" stroke-width="0.7"/>
<polygon points="89,433.24 93.7,433.24 91.3,436.94" fill="#fff" stroke="#333" stroke-width="0.7"/>
<line x1="83.3" y1="433.14" x2="94.3" y2="433.14" stroke="#333" stroke-width="0.7"/>
<line x1="83.3" y1="437.04" x2="94.3" y2="437.04" stroke="#333" stroke-width="0.7"/>
<line x1="82.1" y1="427.97" x2="85.3" y2="433.24" stroke="#444" stroke-width="1"/>
<rect x="88.1" y="430.07" width="3.2" height="1.9" rx="0" fill="none" stroke="#666" stroke-width="0.5"/>
<rect x="93.3" y="437.32" width="2.8" height="2.8" rx="0" fill="none" stroke="#666" stroke-width="0.5"/>
<text x="89.3" y="411.5" font-size="2.7" text-anchor="middle" font-weight="normal" fill="#333">L2/S</text>
<text x="89.7" y="451" font-size="2.7" text-anchor="middle" font-weight="normal" fill="#333">T2/V</text>
<line x1="107.7" y1="413" x2="107.7" y2="447.4" stroke="#3a3a3a" stroke-width="0.8"/>
<circle cx="107.7" cy="413" r="0.85" fill="#3a3a3a" stroke="#3a3a3a" stroke-width="0.3"/>
<circle cx="107.7" cy="447.4" r="0.85" fill="#3a3a3a" stroke="#3a3a3a" stroke-width="0.3"/>
<path d="M110.7 418.63A3.2 2.8 0 1 0 110.7 424.22" fill="none" stroke="#2a2a2a" stroke-width="1.15"/>
<line x1="110.1" y1="418.33" x2="112.7" y2="418.33" stroke="#2a2a2a" stroke-width="0.8"/>
<line x1="110.1" y1="424.52" x2="112.7" y2="424.52" stroke="#2a2a2a" stroke-width="0.8"/>
<polygon points="115.1,418.33 112.1,417.03 112.1,419.63" fill="#1a1a1a"/>
<polygon points="115.1,424.52 112.1,423.22 112.1,425.82" fill="#1a1a1a"/>
<text x="105.4" y="422.33" font-size="2.3" text-anchor="end" font-weight="normal" fill="#444">CT</text>
<path d="M107.7 425.73H115.3V443.96H108.7V439.76H115.3" fill="none" stroke="#555" stroke-width="0.75"/>
<rect x="104.5" y="429.17" width="7.6" height="11.35" rx="0" fill="#f2f2f2" stroke="#555" stroke-width="0.75"/>
<polygon points="102.7,436.94 105.1,433.24 107.4,436.94" fill="#fff" stroke="#333" stroke-width="0.7"/>
<polygon points="108,433.24 112.7,433.24 110.3,436.94" fill="#fff" stroke="#333" stroke-width="0.7"/>
<line x1="102.3" y1="433.14" x2="113.3" y2="433.14" stroke="#333" stroke-width="0.7"/>
<line x1="102.3" y1="437.04" x2="113.3" y2="437.04" stroke="#333" stroke-width="0.7"/>
<line x1="101.1" y1="427.97" x2="104.3" y2="433.24" stroke="#444" stroke-width="1"/>
<rect x="107.1" y="430.07" width="3.2" height="1.9" rx="0" fill="none" stroke="#666" stroke-width="0.5"/>
<rect x="112.3" y="437.32" width="2.8" height="2.8" rx="0" fill="none" stroke="#666" stroke-width="0.5"/>
<text x="108.3" y="411.5" font-size="2.7" text-anchor="middle" font-weight="normal" fill="#333">L3/T</text>
<text x="108.7" y="451" font-size="2.7" text-anchor="middle" font-weight="normal" fill="#333">T3/W</text>
<circle cx="141.5" cy="421.5" r="6" fill="#efefef" stroke="#3c3c3c" stroke-width="0.85"/>
<circle cx="141.5" cy="421.5" r="4.5" fill="none" stroke="#8a8a8a" stroke-width="0.45"/>
<line x1="138.5" y1="418.5" x2="144.5" y2="424.5" stroke="#4a4a4a" stroke-width="1.9"/>
<line x1="138.5" y1="424.5" x2="144.5" y2="418.5" stroke="#4a4a4a" stroke-width="1.9"/>
<line x1="139" y1="419" x2="144" y2="424" stroke="#e4e4e4" stroke-width="0.55"/>
<line x1="139" y1="424" x2="144" y2="419" stroke="#e4e4e4" stroke-width="0.55"/>
<circle cx="142.6" cy="420.6" r="0.75" fill="#222" stroke="#222" stroke-width="0.3"/>
<line x1="136.48" y1="418.6" x2="135.35" y2="417.95" stroke="#555" stroke-width="0.5"/>
<line x1="138.6" y1="416.48" x2="137.95" y2="415.35" stroke="#555" stroke-width="0.5"/>
<line x1="144.4" y1="416.48" x2="145.05" y2="415.35" stroke="#555" stroke-width="0.5"/>
<line x1="146.52" y1="418.6" x2="147.65" y2="417.95" stroke="#555" stroke-width="0.5"/>
<line x1="147.3" y1="421.5" x2="148.6" y2="421.5" stroke="#555" stroke-width="0.5"/>
<line x1="146.52" y1="424.4" x2="147.65" y2="425.05" stroke="#555" stroke-width="0.5"/>
<line x1="136.48" y1="424.4" x2="135.35" y2="425.05" stroke="#555" stroke-width="0.5"/>
<line x1="135.7" y1="421.5" x2="134.4" y2="421.5" stroke="#555" stroke-width="0.5"/>
<rect x="149.4" y="418.1" width="1" height="0.9" rx="0" fill="#444" stroke="#444" stroke-width="0.3"/>
<line x1="147.9" y1="426.5" x2="151.9" y2="426.5" stroke="#666" stroke-width="0.9"/>
<line x1="135.1" y1="426.3" x2="137.5" y2="426.3" stroke="#666" stroke-width="0.8"/>
<line x1="133.1" y1="418.9" x2="135.7" y2="418.9" stroke="#555" stroke-width="0.8"/>
<rect x="141" y="412.9" width="1" height="0.9" rx="0" fill="#444" stroke="#444" stroke-width="0.3"/>
<path d="M123.5 418.3V424.7H130.7M123.5 421.18L126.74 420.22" fill="none" stroke="#333" stroke-width="1"/>
<rect x="127.96" y="418.81" width="1.15" height="1.02" rx="0" fill="#333" stroke="#333" stroke-width="0.3"/>
<circle cx="141.5" cy="436" r="6" fill="#efefef" stroke="#3c3c3c" stroke-width="0.85"/>
<circle cx="141.5" cy="436" r="4.5" fill="none" stroke="#8a8a8a" stroke-width="0.45"/>
<line x1="138.5" y1="433" x2="144.5" y2="439" stroke="#4a4a4a" stroke-width="1.9"/>
<line x1="138.5" y1="439" x2="144.5" y2="433" stroke="#4a4a4a" stroke-width="1.9"/>
<line x1="139" y1="433.5" x2="144" y2="438.5" stroke="#e4e4e4" stroke-width="0.55"/>
<line x1="139" y1="438.5" x2="144" y2="433.5" stroke="#e4e4e4" stroke-width="0.55"/>
<circle cx="142.6" cy="435.1" r="0.75" fill="#222" stroke="#222" stroke-width="0.3"/>
<line x1="136.48" y1="433.1" x2="135.35" y2="432.45" stroke="#555" stroke-width="0.5"/>
<line x1="138.6" y1="430.98" x2="137.95" y2="429.85" stroke="#555" stroke-width="0.5"/>
<line x1="144.4" y1="430.98" x2="145.05" y2="429.85" stroke="#555" stroke-width="0.5"/>
<line x1="146.52" y1="433.1" x2="147.65" y2="432.45" stroke="#555" stroke-width="0.5"/>
<line x1="147.3" y1="436" x2="148.6" y2="436" stroke="#555" stroke-width="0.5"/>
<line x1="146.52" y1="438.9" x2="147.65" y2="439.55" stroke="#555" stroke-width="0.5"/>
<line x1="136.48" y1="438.9" x2="135.35" y2="439.55" stroke="#555" stroke-width="0.5"/>
<line x1="135.7" y1="436" x2="134.4" y2="436" stroke="#555" stroke-width="0.5"/>
<rect x="149.4" y="432.6" width="1" height="0.9" rx="0" fill="#444" stroke="#444" stroke-width="0.3"/>
<line x1="147.9" y1="441" x2="151.9" y2="441" stroke="#666" stroke-width="0.9"/>
<line x1="135.1" y1="440.8" x2="137.5" y2="440.8" stroke="#666" stroke-width="0.8"/>
<line x1="133.1" y1="433.4" x2="135.7" y2="433.4" stroke="#555" stroke-width="0.8"/>
<rect x="141" y="427.4" width="1" height="0.9" rx="0" fill="#444" stroke="#444" stroke-width="0.3"/>
<path d="M123.5 432.8V439.2H130.7M123.5 439.2L126.38 434.4H130.7" fill="none" stroke="#333" stroke-width="1"/>
<circle cx="141.5" cy="450.5" r="6" fill="#efefef" stroke="#3c3c3c" stroke-width="0.85"/>
<circle cx="141.5" cy="450.5" r="4.5" fill="none" stroke="#8a8a8a" stroke-width="0.45"/>
<line x1="138.5" y1="447.5" x2="144.5" y2="453.5" stroke="#4a4a4a" stroke-width="1.9"/>
<line x1="138.5" y1="453.5" x2="144.5" y2="447.5" stroke="#4a4a4a" stroke-width="1.9"/>
<line x1="139" y1="448" x2="144" y2="453" stroke="#e4e4e4" stroke-width="0.55"/>
<line x1="139" y1="453" x2="144" y2="448" stroke="#e4e4e4" stroke-width="0.55"/>
<circle cx="142.6" cy="449.6" r="0.75" fill="#222" stroke="#222" stroke-width="0.3"/>
<line x1="136.48" y1="447.6" x2="135.35" y2="446.95" stroke="#555" stroke-width="0.5"/>
<line x1="138.6" y1="445.48" x2="137.95" y2="444.35" stroke="#555" stroke-width="0.5"/>
<line x1="144.4" y1="445.48" x2="145.05" y2="444.35" stroke="#555" stroke-width="0.5"/>
<line x1="146.52" y1="447.6" x2="147.65" y2="446.95" stroke="#555" stroke-width="0.5"/>
<line x1="147.3" y1="450.5" x2="148.6" y2="450.5" stroke="#555" stroke-width="0.5"/>
<line x1="146.52" y1="453.4" x2="147.65" y2="454.05" stroke="#555" stroke-width="0.5"/>
<line x1="136.48" y1="453.4" x2="135.35" y2="454.05" stroke="#555" stroke-width="0.5"/>
<line x1="135.7" y1="450.5" x2="134.4" y2="450.5" stroke="#555" stroke-width="0.5"/>
<rect x="149.4" y="447.1" width="1" height="0.9" rx="0" fill="#444" stroke="#444" stroke-width="0.3"/>
<line x1="147.9" y1="455.5" x2="151.9" y2="455.5" stroke="#666" stroke-width="0.9"/>
<line x1="135.1" y1="455.3" x2="137.5" y2="455.3" stroke="#666" stroke-width="0.8"/>
<line x1="133.1" y1="447.9" x2="135.7" y2="447.9" stroke="#555" stroke-width="0.8"/>
<rect x="141" y="441.9" width="1" height="0.9" rx="0" fill="#444" stroke="#444" stroke-width="0.3"/>
<path d="M123.5 453.7V447.3H127.46L130.7 453.7Z" fill="none" stroke="#333" stroke-width="1"/>
<rect x="129.12" y="447.3" width="1.01" height="1.02" rx="0" fill="#333" stroke="#333" stroke-width="0.3"/>
<rect x="136.3" y="376.3" width="14.7" height="20.4" rx="0" fill="#e0e0e0" stroke="#5a5a5a" stroke-width="1.2"/>
<rect x="149.1" y="377.1" width="1.4" height="18.8" rx="0" fill="#b8b8b8" stroke="none" stroke-width="0"/>
<rect x="138.5" y="378.1" width="10.7" height="15.8" rx="0" fill="#fafafa" stroke="#5a5a5a" stroke-width="1"/>
<line x1="138.5" y1="390.4" x2="149.2" y2="390.4" stroke="#666" stroke-width="1.1"/>
<line x1="144.05" y1="380.3" x2="144.05" y2="383.7" stroke="#222" stroke-width="1.2"/>
<ellipse cx="144.25" cy="387.3" rx="1.6" ry="1.9" fill="none" stroke="#333" stroke-width="1"/>
<circle cx="64.2" cy="490.2" r="3.1" fill="#fff" stroke="#333" stroke-width="1"/>
<text x="64.2" y="497.6" font-size="3.8" text-anchor="middle" font-weight="normal" fill="#222" stroke="#222" stroke-width="0.15">1</text>
<circle cx="73.5" cy="490.2" r="3.1" fill="#fff" stroke="#333" stroke-width="1"/>
<text x="73.5" y="497.6" font-size="3.8" text-anchor="middle" font-weight="normal" fill="#222" stroke="#222" stroke-width="0.15">2</text>
<circle cx="83" cy="490.2" r="3.1" fill="#fff" stroke="#333" stroke-width="1"/>
<text x="83" y="497.6" font-size="3.8" text-anchor="middle" font-weight="normal" fill="#222" stroke="#222" stroke-width="0.15">3</text>
<circle cx="92.5" cy="490.2" r="3.1" fill="#fff" stroke="#333" stroke-width="1"/>
<text x="92.5" y="497.6" font-size="3.8" text-anchor="middle" font-weight="normal" fill="#222" stroke="#222" stroke-width="0.15">4</text>
<circle cx="102" cy="490.2" r="3.1" fill="#fff" stroke="#333" stroke-width="1"/>
<text x="102" y="497.6" font-size="3.8" text-anchor="middle" font-weight="normal" fill="#222" stroke="#222" stroke-width="0.15">5</text>
<circle cx="111.6" cy="490.2" r="3.1" fill="#fff" stroke="#333" stroke-width="1"/>
<text x="111.6" y="497.6" font-size="3.8" text-anchor="middle" font-weight="normal" fill="#222" stroke="#222" stroke-width="0.15">6</text>
<circle cx="121.2" cy="490.2" r="3.1" fill="#fff" stroke="#333" stroke-width="1"/>
<text x="121.2" y="497.6" font-size="3.8" text-anchor="middle" font-weight="normal" fill="#222" stroke="#222" stroke-width="0.15">7</text>
<circle cx="130.8" cy="490.2" r="3.1" fill="#fff" stroke="#333" stroke-width="1"/>
<text x="130.8" y="497.6" font-size="3.8" text-anchor="middle" font-weight="normal" fill="#222" stroke="#222" stroke-width="0.15">8</text>
<circle cx="140.3" cy="490.2" r="3.1" fill="#fff" stroke="#333" stroke-width="1"/>
<text x="140.3" y="497.6" font-size="3.8" text-anchor="middle" font-weight="normal" fill="#222" stroke="#222" stroke-width="0.15">9</text>
<circle cx="149.8" cy="490.2" r="3.1" fill="#fff" stroke="#333" stroke-width="1"/>
<text x="149.8" y="497.6" font-size="3.8" text-anchor="middle" font-weight="normal" fill="#222" stroke="#222" stroke-width="0.15">10</text>
<path d="M64.2 487.1V483.3H76.5l1.5 1.2H83V487.1M73.5 487.1V481.8" fill="none" stroke="#333" stroke-width="0.8"/>
<circle cx="64.2" cy="483.3" r="0.7" fill="#222" stroke="#222" stroke-width="0.5"/>
<line x1="62.6" y1="479.1" x2="63.8" y2="482.3" stroke="#333" stroke-width="0.6"/>
<text x="74.7" y="481.1" font-size="3" text-anchor="start" font-weight="normal" fill="#333">N</text>
<text x="69.6" y="481.8" font-size="2.9" text-anchor="start" font-weight="normal" fill="#2a2a2a" transform="rotate(-90 69.6 481.8)" stroke="#2a2a2a" stroke-width="0.12">~220V±15%</text>
<text x="68.1" y="481.8" font-size="2.4" text-anchor="start" font-weight="normal" fill="#444" transform="rotate(-90 68.1 481.8)">50/60Hz</text>
<text x="82.8" y="481.5" font-size="2.4" text-anchor="start" font-weight="normal" fill="#2a2a2a" transform="rotate(-90 82.8 481.5)" stroke="#2a2a2a" stroke-width="0.1">Сброс/Пуск</text>
<path d="M92.5 487.1V484.7L93.7 483.3H100.8L102 484.7V487.1" fill="none" stroke="#333" stroke-width="0.8"/>
<text x="97.25" y="481.9" font-size="2.6" text-anchor="middle" font-weight="normal" fill="#2a2a2a" stroke="#2a2a2a" stroke-width="0.1">Работа</text>
<path d="M111.6 487.1V484.7L112.8 483.3H120L121.2 484.7V487.1" fill="none" stroke="#333" stroke-width="0.8"/>
<text x="116.4" y="481.9" font-size="2.6" text-anchor="middle" font-weight="normal" fill="#2a2a2a" stroke="#2a2a2a" stroke-width="0.1">Авария</text>
<line x1="130.8" y1="485.9" x2="130.8" y2="476.6" stroke="#555" stroke-width="0.9"/>
<line x1="130.8" y1="485.9" x2="130.8" y2="476.6" stroke="#333" stroke-width="1.1" stroke-dasharray="2 1.1"/>
<line x1="140.3" y1="485.9" x2="140.3" y2="476.6" stroke="#555" stroke-width="0.9"/>
<line x1="140.3" y1="485.9" x2="140.3" y2="476.6" stroke="#333" stroke-width="1.1" stroke-dasharray="2 1.1"/>
<line x1="149.8" y1="487.1" x2="149.8" y2="479.5" stroke="#333" stroke-width="0.8"/>
<line x1="147.2" y1="483.7" x2="152.4" y2="483.7" stroke="#333" stroke-width="0.8"/>
<line x1="148.1" y1="484.9" x2="151.5" y2="484.9" stroke="#333" stroke-width="0.7"/>
<line x1="149" y1="486" x2="150.6" y2="486" stroke="#333" stroke-width="0.6"/>
<line x1="49.55" y1="499.6" x2="163.9" y2="499.6" stroke="#4a4a4a" stroke-width="1"/>
<line x1="49.55" y1="517.6" x2="163.9" y2="517.6" stroke="#4a4a4a" stroke-width="1"/>
<line x1="49.55" y1="518.9" x2="163.9" y2="518.9" stroke="#4a4a4a" stroke-width="0.6"/>
<line x1="61.3" y1="499.6" x2="61.3" y2="517.6" stroke="#4a4a4a" stroke-width="1"/>
<line x1="152" y1="499.6" x2="152" y2="517.6" stroke="#4a4a4a" stroke-width="1"/>
<circle cx="55.4" cy="506.8" r="5.2" fill="none" stroke="#333" stroke-width="1.1"/>
<line x1="50.2" y1="506.8" x2="60.6" y2="506.8" stroke="#333" stroke-width="1.3"/>
<line x1="55.4" y1="501.6" x2="55.4" y2="512" stroke="#333" stroke-width="1.3"/>
<circle cx="76.3" cy="506.8" r="5.2" fill="none" stroke="#333" stroke-width="1.1"/>
<line x1="71.1" y1="506.8" x2="81.5" y2="506.8" stroke="#333" stroke-width="1.3"/>
<line x1="76.3" y1="501.6" x2="76.3" y2="512" stroke="#333" stroke-width="1.3"/>
<circle cx="107.5" cy="506.8" r="5.2" fill="none" stroke="#333" stroke-width="1.1"/>
<line x1="102.3" y1="506.8" x2="112.7" y2="506.8" stroke="#333" stroke-width="1.3"/>
<line x1="107.5" y1="501.6" x2="107.5" y2="512" stroke="#333" stroke-width="1.3"/>
<circle cx="137.5" cy="506.8" r="5.2" fill="none" stroke="#333" stroke-width="1.1"/>
<line x1="132.3" y1="506.8" x2="142.7" y2="506.8" stroke="#333" stroke-width="1.3"/>
<line x1="137.5" y1="501.6" x2="137.5" y2="512" stroke="#333" stroke-width="1.3"/>
<circle cx="158.3" cy="506.8" r="5.2" fill="none" stroke="#333" stroke-width="1.1"/>
<line x1="153.1" y1="506.8" x2="163.5" y2="506.8" stroke="#333" stroke-width="1.3"/>
<line x1="158.3" y1="501.6" x2="158.3" y2="512" stroke="#333" stroke-width="1.3"/>
<path d="M65.3 517.6V524.6A4 4 0 0 0 73.3 524.6V517.6" fill="none" stroke="#4a4a4a" stroke-width="0.9"/>
<path d="M140.5 517.6V524.6A4 4 0 0 0 148.5 524.6V517.6" fill="none" stroke="#4a4a4a" stroke-width="0.9"/>
<line x1="63.3" y1="524.2" x2="75.6" y2="524.2" stroke="#4a4a4a" stroke-width="0.9"/>
<line x1="138.5" y1="524.2" x2="183" y2="524.2" stroke="#4a4a4a" stroke-width="0.9"/>
<line x1="69.3" y1="520" x2="69.3" y2="551" stroke="#333" stroke-width="0.9"/>
<line x1="144.5" y1="520" x2="144.5" y2="551" stroke="#333" stroke-width="0.9"/>
<line x1="69.3" y1="549" x2="144.5" y2="549" stroke="#4a4a4a" stroke-width="1"/>
<polygon points="69.3,549 76.5,547.25 76.5,550.75" fill="#1a1a1a"/>
<polygon points="144.5,549 137.3,547.25 137.3,550.75" fill="#1a1a1a"/>
<text x="107.2" y="545.5" font-size="9" text-anchor="middle" font-weight="normal" fill="#222" stroke="#222" stroke-width="0.28">60</text>
<line x1="35.8" y1="313" x2="49.55" y2="313" stroke="#4a4a4a" stroke-width="1"/>
<line x1="35.8" y1="531.8" x2="49.55" y2="531.8" stroke="#4a4a4a" stroke-width="1"/>
<line x1="37.8" y1="313" x2="37.8" y2="531.8" stroke="#4a4a4a" stroke-width="1"/>
<polygon points="37.8,313 36.05,320.2 39.55,320.2" fill="#1a1a1a"/>
<polygon points="37.8,531.8 36.05,524.6 39.55,524.6" fill="#1a1a1a"/>
<text x="35.7" y="418.9" font-size="9" text-anchor="middle" font-weight="normal" fill="#222" transform="rotate(-90 35.7 418.9)" stroke="#222" stroke-width="0.28">175</text>
<line x1="181.3" y1="325.8" x2="181.3" y2="524.2" stroke="#4a4a4a" stroke-width="1"/>
<polygon points="181.3,325.8 179.55,333 183.05,333" fill="#1a1a1a"/>
<polygon points="181.3,524.2 179.55,517 183.05,517" fill="#1a1a1a"/>
<text x="179.2" y="419.75" font-size="9" text-anchor="middle" font-weight="normal" fill="#222" transform="rotate(-90 179.2 419.75)" stroke="#222" stroke-width="0.28">156</text>
<text x="106.05" y="573.1" font-size="12.8" text-anchor="middle" font-weight="normal" fill="#1a1a1a" textLength="70" lengthAdjust="spacingAndGlyphs" stroke="#1a1a1a" stroke-width="0.28">1.1 - 7.5кВт</text>
<rect x="214.2" y="281.3" width="134.5" height="250" rx="0" fill="none" stroke="#4a4a4a" stroke-width="1"/>
<line x1="238.8" y1="272.4" x2="238.8" y2="299.2" stroke="#333" stroke-width="0.9"/>
<line x1="324.3" y1="272.4" x2="324.3" y2="299.2" stroke="#333" stroke-width="0.9"/>
<line x1="238.8" y1="274.2" x2="324.3" y2="274.2" stroke="#4a4a4a" stroke-width="1"/>
<polygon points="238.8,274.2 246,272.45 246,275.95" fill="#1a1a1a"/>
<polygon points="324.3,274.2 317.1,272.45 317.1,275.95" fill="#1a1a1a"/>
<text x="284.35" y="271.5" font-size="9" text-anchor="middle" font-weight="normal" fill="#222" stroke="#222" stroke-width="0.28">68</text>
<path d="M233.2 293.7L236.1 289.52V287.7A2.7 2.7 0 0 1 241.5 287.7V289.52L244.4 293.7Z" fill="none" stroke="#4a4a4a" stroke-width="0.9"/>
<line x1="233.2" y1="293.7" x2="233.2" y2="296.3" stroke="#4a4a4a" stroke-width="0.9"/>
<line x1="244.4" y1="293.7" x2="244.4" y2="296.3" stroke="#4a4a4a" stroke-width="0.9"/>
<path d="M318.7 293.7L321.6 289.52V287.7A2.7 2.7 0 0 1 327 287.7V289.52L329.9 293.7Z" fill="none" stroke="#4a4a4a" stroke-width="0.9"/>
<line x1="318.7" y1="293.7" x2="318.7" y2="296.3" stroke="#4a4a4a" stroke-width="0.9"/>
<line x1="329.9" y1="293.7" x2="329.9" y2="296.3" stroke="#4a4a4a" stroke-width="0.9"/>
<line x1="329.9" y1="293.7" x2="362.6" y2="293.7" stroke="#4a4a4a" stroke-width="1"/>
<line x1="214.2" y1="296.3" x2="348.7" y2="296.3" stroke="#4a4a4a" stroke-width="1"/>
<line x1="214.2" y1="314.2" x2="348.7" y2="314.2" stroke="#4a4a4a" stroke-width="1"/>
<line x1="236.3" y1="296.3" x2="236.3" y2="314.2" stroke="#4a4a4a" stroke-width="1"/>
<line x1="327" y1="296.3" x2="327" y2="314.2" stroke="#4a4a4a" stroke-width="1"/>
<circle cx="225.3" cy="307" r="5.2" fill="none" stroke="#333" stroke-width="1.1"/>
<line x1="220.1" y1="307" x2="230.5" y2="307" stroke="#333" stroke-width="1.3"/>
<line x1="225.3" y1="301.8" x2="225.3" y2="312.2" stroke="#333" stroke-width="1.3"/>
<circle cx="250.7" cy="307" r="5.2" fill="none" stroke="#333" stroke-width="1.1"/>
<line x1="245.5" y1="307" x2="255.9" y2="307" stroke="#333" stroke-width="1.3"/>
<line x1="250.7" y1="301.8" x2="250.7" y2="312.2" stroke="#333" stroke-width="1.3"/>
<circle cx="282.2" cy="307" r="5.2" fill="none" stroke="#333" stroke-width="1.1"/>
<line x1="277" y1="307" x2="287.4" y2="307" stroke="#333" stroke-width="1.3"/>
<line x1="282.2" y1="301.8" x2="282.2" y2="312.2" stroke="#333" stroke-width="1.3"/>
<circle cx="312.4" cy="307" r="5.2" fill="none" stroke="#333" stroke-width="1.1"/>
<line x1="307.2" y1="307" x2="317.6" y2="307" stroke="#333" stroke-width="1.3"/>
<line x1="312.4" y1="301.8" x2="312.4" y2="312.2" stroke="#333" stroke-width="1.3"/>
<circle cx="338.6" cy="307" r="5.2" fill="none" stroke="#333" stroke-width="1.1"/>
<line x1="333.4" y1="307" x2="343.8" y2="307" stroke="#333" stroke-width="1.3"/>
<line x1="338.6" y1="301.8" x2="338.6" y2="312.2" stroke="#333" stroke-width="1.3"/>
<rect x="224.7" y="346.1" width="113.7" height="136.3" rx="0" fill="none" stroke="#555" stroke-width="1"/>
<rect x="227.3" y="348.8" width="108.5" height="99.8" rx="1.8" fill="#ebebeb" stroke="#5a5a5a" stroke-width="1"/>
<text x="230.2" y="358.8" font-size="8.6" text-anchor="start" font-weight="bold" fill="#1c1c1c" letter-spacing="-0.15" stroke="#1c1c1c" stroke-width="0.35">oni</text>
<circle cx="248.8" cy="367.5" r="1.75" fill="#111" stroke="#111" stroke-width="0.4"/>
<circle cx="263.7" cy="367.5" r="1.75" fill="#111" stroke="#111" stroke-width="0.4"/>
<circle cx="279.2" cy="367.5" r="1.75" fill="#111" stroke="#111" stroke-width="0.4"/>
<circle cx="293.7" cy="367.5" r="1.75" fill="#111" stroke="#111" stroke-width="0.4"/>
<text x="241.7" y="375" font-size="3.9" text-anchor="start" font-weight="normal" fill="#2a2a2a" textLength="14.6" lengthAdjust="spacingAndGlyphs" stroke="#2a2a2a" stroke-width="0.12">Питание</text>
<text x="258.3" y="375" font-size="3.9" text-anchor="start" font-weight="normal" fill="#2a2a2a" textLength="11.7" lengthAdjust="spacingAndGlyphs" stroke="#2a2a2a" stroke-width="0.12">Работа</text>
<text x="272.5" y="375" font-size="3.9" text-anchor="start" font-weight="normal" fill="#2a2a2a" textLength="14.5" lengthAdjust="spacingAndGlyphs" stroke="#2a2a2a" stroke-width="0.12">Авария1</text>
<text x="289.5" y="375" font-size="3.9" text-anchor="start" font-weight="normal" fill="#2a2a2a" textLength="14.7" lengthAdjust="spacingAndGlyphs" stroke="#2a2a2a" stroke-width="0.12">Авария2</text>
<rect x="232.8" y="390.3" width="60.5" height="48" rx="1.8" fill="#e7e7e7" stroke="#5a5a5a" stroke-width="1.05"/>
<line x1="243.3" y1="396.6" x2="243.3" y2="430.4" stroke="#3a3a3a" stroke-width="0.8"/>
<circle cx="243.3" cy="396.6" r="0.85" fill="#3a3a3a" stroke="#3a3a3a" stroke-width="0.3"/>
<circle cx="243.3" cy="430.4" r="0.85" fill="#3a3a3a" stroke="#3a3a3a" stroke-width="0.3"/>
<path d="M246.3 402.14A3.14 2.74 0 1 0 246.3 407.62" fill="none" stroke="#2a2a2a" stroke-width="1.15"/>
<line x1="245.7" y1="401.84" x2="248.3" y2="401.84" stroke="#2a2a2a" stroke-width="0.8"/>
<line x1="245.7" y1="407.92" x2="248.3" y2="407.92" stroke="#2a2a2a" stroke-width="0.8"/>
<polygon points="250.7,401.84 247.7,400.54 247.7,403.14" fill="#1a1a1a"/>
<polygon points="250.7,407.92 247.7,406.62 247.7,409.22" fill="#1a1a1a"/>
<text x="241" y="405.78" font-size="2.3" text-anchor="end" font-weight="normal" fill="#444">CT</text>
<path d="M243.3 409.11H250.9V427.02H244.3V422.82H250.9" fill="none" stroke="#555" stroke-width="0.75"/>
<rect x="240.1" y="412.49" width="7.6" height="11.15" rx="0" fill="#f2f2f2" stroke="#555" stroke-width="0.75"/>
<polygon points="238.3,420.16 240.7,416.46 243,420.16" fill="#fff" stroke="#333" stroke-width="0.7"/>
<polygon points="243.6,416.46 248.3,416.46 245.9,420.16" fill="#fff" stroke="#333" stroke-width="0.7"/>
<line x1="237.9" y1="416.36" x2="248.9" y2="416.36" stroke="#333" stroke-width="0.7"/>
<line x1="237.9" y1="420.26" x2="248.9" y2="420.26" stroke="#333" stroke-width="0.7"/>
<line x1="236.7" y1="411.29" x2="239.9" y2="416.46" stroke="#444" stroke-width="1"/>
<rect x="242.7" y="413.39" width="3.2" height="1.9" rx="0" fill="none" stroke="#666" stroke-width="0.5"/>
<rect x="247.9" y="420.44" width="2.8" height="2.8" rx="0" fill="none" stroke="#666" stroke-width="0.5"/>
<text x="243.9" y="395.1" font-size="2.7" text-anchor="middle" font-weight="normal" fill="#333">L1/R</text>
<text x="244.3" y="434" font-size="2.7" text-anchor="middle" font-weight="normal" fill="#333">T1/U</text>
<line x1="263.2" y1="396.6" x2="263.2" y2="430.4" stroke="#3a3a3a" stroke-width="0.8"/>
<circle cx="263.2" cy="396.6" r="0.85" fill="#3a3a3a" stroke="#3a3a3a" stroke-width="0.3"/>
<circle cx="263.2" cy="430.4" r="0.85" fill="#3a3a3a" stroke="#3a3a3a" stroke-width="0.3"/>
<path d="M266.2 402.14A3.14 2.74 0 1 0 266.2 407.62" fill="none" stroke="#2a2a2a" stroke-width="1.15"/>
<line x1="265.6" y1="401.84" x2="268.2" y2="401.84" stroke="#2a2a2a" stroke-width="0.8"/>
<line x1="265.6" y1="407.92" x2="268.2" y2="407.92" stroke="#2a2a2a" stroke-width="0.8"/>
<polygon points="270.6,401.84 267.6,400.54 267.6,403.14" fill="#1a1a1a"/>
<polygon points="270.6,407.92 267.6,406.62 267.6,409.22" fill="#1a1a1a"/>
<text x="260.9" y="405.78" font-size="2.3" text-anchor="end" font-weight="normal" fill="#444">CT</text>
<path d="M263.2 409.11H270.8V427.02H264.2V422.82H270.8" fill="none" stroke="#555" stroke-width="0.75"/>
<rect x="260" y="412.49" width="7.6" height="11.15" rx="0" fill="#f2f2f2" stroke="#555" stroke-width="0.75"/>
<polygon points="258.2,420.16 260.6,416.46 262.9,420.16" fill="#fff" stroke="#333" stroke-width="0.7"/>
<polygon points="263.5,416.46 268.2,416.46 265.8,420.16" fill="#fff" stroke="#333" stroke-width="0.7"/>
<line x1="257.8" y1="416.36" x2="268.8" y2="416.36" stroke="#333" stroke-width="0.7"/>
<line x1="257.8" y1="420.26" x2="268.8" y2="420.26" stroke="#333" stroke-width="0.7"/>
<line x1="256.6" y1="411.29" x2="259.8" y2="416.46" stroke="#444" stroke-width="1"/>
<rect x="262.6" y="413.39" width="3.2" height="1.9" rx="0" fill="none" stroke="#666" stroke-width="0.5"/>
<rect x="267.8" y="420.44" width="2.8" height="2.8" rx="0" fill="none" stroke="#666" stroke-width="0.5"/>
<text x="263.8" y="395.1" font-size="2.7" text-anchor="middle" font-weight="normal" fill="#333">L2/S</text>
<text x="264.2" y="434" font-size="2.7" text-anchor="middle" font-weight="normal" fill="#333">T2/V</text>
<line x1="282" y1="396.6" x2="282" y2="430.4" stroke="#3a3a3a" stroke-width="0.8"/>
<circle cx="282" cy="396.6" r="0.85" fill="#3a3a3a" stroke="#3a3a3a" stroke-width="0.3"/>
<circle cx="282" cy="430.4" r="0.85" fill="#3a3a3a" stroke="#3a3a3a" stroke-width="0.3"/>
<path d="M285 402.14A3.14 2.74 0 1 0 285 407.62" fill="none" stroke="#2a2a2a" stroke-width="1.15"/>
<line x1="284.4" y1="401.84" x2="287" y2="401.84" stroke="#2a2a2a" stroke-width="0.8"/>
<line x1="284.4" y1="407.92" x2="287" y2="407.92" stroke="#2a2a2a" stroke-width="0.8"/>
<polygon points="289.4,401.84 286.4,400.54 286.4,403.14" fill="#1a1a1a"/>
<polygon points="289.4,407.92 286.4,406.62 286.4,409.22" fill="#1a1a1a"/>
<text x="279.7" y="405.78" font-size="2.3" text-anchor="end" font-weight="normal" fill="#444">CT</text>
<path d="M282 409.11H289.6V427.02H283V422.82H289.6" fill="none" stroke="#555" stroke-width="0.75"/>
<rect x="278.8" y="412.49" width="7.6" height="11.15" rx="0" fill="#f2f2f2" stroke="#555" stroke-width="0.75"/>
<polygon points="277,420.16 279.4,416.46 281.7,420.16" fill="#fff" stroke="#333" stroke-width="0.7"/>
<polygon points="282.3,416.46 287,416.46 284.6,420.16" fill="#fff" stroke="#333" stroke-width="0.7"/>
<line x1="276.6" y1="416.36" x2="287.6" y2="416.36" stroke="#333" stroke-width="0.7"/>
<line x1="276.6" y1="420.26" x2="287.6" y2="420.26" stroke="#333" stroke-width="0.7"/>
<line x1="275.4" y1="411.29" x2="278.6" y2="416.46" stroke="#444" stroke-width="1"/>
<rect x="281.4" y="413.39" width="3.2" height="1.9" rx="0" fill="none" stroke="#666" stroke-width="0.5"/>
<rect x="286.6" y="420.44" width="2.8" height="2.8" rx="0" fill="none" stroke="#666" stroke-width="0.5"/>
<text x="282.6" y="395.1" font-size="2.7" text-anchor="middle" font-weight="normal" fill="#333">L3/T</text>
<text x="283" y="434" font-size="2.7" text-anchor="middle" font-weight="normal" fill="#333">T3/W</text>
<circle cx="316.2" cy="404.2" r="5.7" fill="#efefef" stroke="#3c3c3c" stroke-width="0.85"/>
<circle cx="316.2" cy="404.2" r="4.2" fill="none" stroke="#8a8a8a" stroke-width="0.45"/>
<line x1="313.35" y1="401.35" x2="319.05" y2="407.05" stroke="#4a4a4a" stroke-width="1.9"/>
<line x1="313.35" y1="407.05" x2="319.05" y2="401.35" stroke="#4a4a4a" stroke-width="1.9"/>
<line x1="313.85" y1="401.85" x2="318.55" y2="406.55" stroke="#e4e4e4" stroke-width="0.55"/>
<line x1="313.85" y1="406.55" x2="318.55" y2="401.85" stroke="#e4e4e4" stroke-width="0.55"/>
<circle cx="317.3" cy="403.3" r="0.75" fill="#222" stroke="#222" stroke-width="0.3"/>
<line x1="311.44" y1="401.45" x2="310.31" y2="400.8" stroke="#555" stroke-width="0.5"/>
<line x1="313.45" y1="399.44" x2="312.8" y2="398.31" stroke="#555" stroke-width="0.5"/>
<line x1="318.95" y1="399.44" x2="319.6" y2="398.31" stroke="#555" stroke-width="0.5"/>
<line x1="320.96" y1="401.45" x2="322.09" y2="400.8" stroke="#555" stroke-width="0.5"/>
<line x1="321.7" y1="404.2" x2="323" y2="404.2" stroke="#555" stroke-width="0.5"/>
<line x1="320.96" y1="406.95" x2="322.09" y2="407.6" stroke="#555" stroke-width="0.5"/>
<line x1="311.44" y1="406.95" x2="310.31" y2="407.6" stroke="#555" stroke-width="0.5"/>
<line x1="310.7" y1="404.2" x2="309.4" y2="404.2" stroke="#555" stroke-width="0.5"/>
<rect x="323.8" y="400.8" width="1" height="0.9" rx="0" fill="#444" stroke="#444" stroke-width="0.3"/>
<line x1="322.3" y1="409.2" x2="326.3" y2="409.2" stroke="#666" stroke-width="0.9"/>
<line x1="310.1" y1="409" x2="312.5" y2="409" stroke="#666" stroke-width="0.8"/>
<line x1="308.1" y1="401.6" x2="310.7" y2="401.6" stroke="#555" stroke-width="0.8"/>
<rect x="315.7" y="395.9" width="1" height="0.9" rx="0" fill="#444" stroke="#444" stroke-width="0.3"/>
<path d="M298.7 401V407.4H305.9M298.7 403.88L301.94 402.92" fill="none" stroke="#333" stroke-width="1"/>
<rect x="303.16" y="401.51" width="1.15" height="1.02" rx="0" fill="#333" stroke="#333" stroke-width="0.3"/>
<circle cx="316.2" cy="419.6" r="5.7" fill="#efefef" stroke="#3c3c3c" stroke-width="0.85"/>
<circle cx="316.2" cy="419.6" r="4.2" fill="none" stroke="#8a8a8a" stroke-width="0.45"/>
<line x1="313.35" y1="416.75" x2="319.05" y2="422.45" stroke="#4a4a4a" stroke-width="1.9"/>
<line x1="313.35" y1="422.45" x2="319.05" y2="416.75" stroke="#4a4a4a" stroke-width="1.9"/>
<line x1="313.85" y1="417.25" x2="318.55" y2="421.95" stroke="#e4e4e4" stroke-width="0.55"/>
<line x1="313.85" y1="421.95" x2="318.55" y2="417.25" stroke="#e4e4e4" stroke-width="0.55"/>
<circle cx="317.3" cy="418.7" r="0.75" fill="#222" stroke="#222" stroke-width="0.3"/>
<line x1="311.44" y1="416.85" x2="310.31" y2="416.2" stroke="#555" stroke-width="0.5"/>
<line x1="313.45" y1="414.84" x2="312.8" y2="413.71" stroke="#555" stroke-width="0.5"/>
<line x1="318.95" y1="414.84" x2="319.6" y2="413.71" stroke="#555" stroke-width="0.5"/>
<line x1="320.96" y1="416.85" x2="322.09" y2="416.2" stroke="#555" stroke-width="0.5"/>
<line x1="321.7" y1="419.6" x2="323" y2="419.6" stroke="#555" stroke-width="0.5"/>
<line x1="320.96" y1="422.35" x2="322.09" y2="423" stroke="#555" stroke-width="0.5"/>
<line x1="311.44" y1="422.35" x2="310.31" y2="423" stroke="#555" stroke-width="0.5"/>
<line x1="310.7" y1="419.6" x2="309.4" y2="419.6" stroke="#555" stroke-width="0.5"/>
<rect x="323.8" y="416.2" width="1" height="0.9" rx="0" fill="#444" stroke="#444" stroke-width="0.3"/>
<line x1="322.3" y1="424.6" x2="326.3" y2="424.6" stroke="#666" stroke-width="0.9"/>
<line x1="310.1" y1="424.4" x2="312.5" y2="424.4" stroke="#666" stroke-width="0.8"/>
<line x1="308.1" y1="417" x2="310.7" y2="417" stroke="#555" stroke-width="0.8"/>
<rect x="315.7" y="411.3" width="1" height="0.9" rx="0" fill="#444" stroke="#444" stroke-width="0.3"/>
<path d="M298.7 416.4V422.8H305.9M298.7 422.8L301.58 418H305.9" fill="none" stroke="#333" stroke-width="1"/>
<circle cx="316.2" cy="434.4" r="5.7" fill="#efefef" stroke="#3c3c3c" stroke-width="0.85"/>
<circle cx="316.2" cy="434.4" r="4.2" fill="none" stroke="#8a8a8a" stroke-width="0.45"/>
<line x1="313.35" y1="431.55" x2="319.05" y2="437.25" stroke="#4a4a4a" stroke-width="1.9"/>
<line x1="313.35" y1="437.25" x2="319.05" y2="431.55" stroke="#4a4a4a" stroke-width="1.9"/>
<line x1="313.85" y1="432.05" x2="318.55" y2="436.75" stroke="#e4e4e4" stroke-width="0.55"/>
<line x1="313.85" y1="436.75" x2="318.55" y2="432.05" stroke="#e4e4e4" stroke-width="0.55"/>
<circle cx="317.3" cy="433.5" r="0.75" fill="#222" stroke="#222" stroke-width="0.3"/>
<line x1="311.44" y1="431.65" x2="310.31" y2="431" stroke="#555" stroke-width="0.5"/>
<line x1="313.45" y1="429.64" x2="312.8" y2="428.51" stroke="#555" stroke-width="0.5"/>
<line x1="318.95" y1="429.64" x2="319.6" y2="428.51" stroke="#555" stroke-width="0.5"/>
<line x1="320.96" y1="431.65" x2="322.09" y2="431" stroke="#555" stroke-width="0.5"/>
<line x1="321.7" y1="434.4" x2="323" y2="434.4" stroke="#555" stroke-width="0.5"/>
<line x1="320.96" y1="437.15" x2="322.09" y2="437.8" stroke="#555" stroke-width="0.5"/>
<line x1="311.44" y1="437.15" x2="310.31" y2="437.8" stroke="#555" stroke-width="0.5"/>
<line x1="310.7" y1="434.4" x2="309.4" y2="434.4" stroke="#555" stroke-width="0.5"/>
<rect x="323.8" y="431" width="1" height="0.9" rx="0" fill="#444" stroke="#444" stroke-width="0.3"/>
<line x1="322.3" y1="439.4" x2="326.3" y2="439.4" stroke="#666" stroke-width="0.9"/>
<line x1="310.1" y1="439.2" x2="312.5" y2="439.2" stroke="#666" stroke-width="0.8"/>
<line x1="308.1" y1="431.8" x2="310.7" y2="431.8" stroke="#555" stroke-width="0.8"/>
<rect x="315.7" y="426.1" width="1" height="0.9" rx="0" fill="#444" stroke="#444" stroke-width="0.3"/>
<path d="M298.7 437.6V431.2H302.66L305.9 437.6Z" fill="none" stroke="#333" stroke-width="1"/>
<rect x="304.32" y="431.2" width="1.01" height="1.02" rx="0" fill="#333" stroke="#333" stroke-width="0.3"/>
<circle cx="238.6" cy="473.8" r="3.1" fill="#fff" stroke="#333" stroke-width="1"/>
<text x="238.6" y="481.2" font-size="3.8" text-anchor="middle" font-weight="normal" fill="#222" stroke="#222" stroke-width="0.15">1</text>
<circle cx="248.2" cy="473.8" r="3.1" fill="#fff" stroke="#333" stroke-width="1"/>
<text x="248.2" y="481.2" font-size="3.8" text-anchor="middle" font-weight="normal" fill="#222" stroke="#222" stroke-width="0.15">2</text>
<circle cx="257.8" cy="473.8" r="3.1" fill="#fff" stroke="#333" stroke-width="1"/>
<text x="257.8" y="481.2" font-size="3.8" text-anchor="middle" font-weight="normal" fill="#222" stroke="#222" stroke-width="0.15">3</text>
<circle cx="267.3" cy="473.8" r="3.1" fill="#fff" stroke="#333" stroke-width="1"/>
<text x="267.3" y="481.2" font-size="3.8" text-anchor="middle" font-weight="normal" fill="#222" stroke="#222" stroke-width="0.15">4</text>
<circle cx="276.8" cy="473.8" r="3.1" fill="#fff" stroke="#333" stroke-width="1"/>
<text x="276.8" y="481.2" font-size="3.8" text-anchor="middle" font-weight="normal" fill="#222" stroke="#222" stroke-width="0.15">5</text>
<circle cx="286.2" cy="473.8" r="3.1" fill="#fff" stroke="#333" stroke-width="1"/>
<text x="286.2" y="481.2" font-size="3.8" text-anchor="middle" font-weight="normal" fill="#222" stroke="#222" stroke-width="0.15">6</text>
<circle cx="295.8" cy="473.8" r="3.1" fill="#fff" stroke="#333" stroke-width="1"/>
<text x="295.8" y="481.2" font-size="3.8" text-anchor="middle" font-weight="normal" fill="#222" stroke="#222" stroke-width="0.15">7</text>
<circle cx="305.3" cy="473.8" r="3.1" fill="#fff" stroke="#333" stroke-width="1"/>
<text x="305.3" y="481.2" font-size="3.8" text-anchor="middle" font-weight="normal" fill="#222" stroke="#222" stroke-width="0.15">8</text>
<circle cx="314.9" cy="473.8" r="3.1" fill="#fff" stroke="#333" stroke-width="1"/>
<text x="314.9" y="481.2" font-size="3.8" text-anchor="middle" font-weight="normal" fill="#222" stroke="#222" stroke-width="0.15">9</text>
<circle cx="324.4" cy="473.8" r="3.1" fill="#fff" stroke="#333" stroke-width="1"/>
<text x="324.4" y="481.2" font-size="3.8" text-anchor="middle" font-weight="normal" fill="#222" stroke="#222" stroke-width="0.15">10</text>
<path d="M238.6 470.7V466.9H251.2l1.5 1.2H257.8V470.7M248.2 470.7V465.4" fill="none" stroke="#333" stroke-width="0.8"/>
<circle cx="238.6" cy="466.9" r="0.7" fill="#222" stroke="#222" stroke-width="0.5"/>
<line x1="237" y1="462.7" x2="238.2" y2="465.9" stroke="#333" stroke-width="0.6"/>
<text x="249.4" y="464.7" font-size="3" text-anchor="start" font-weight="normal" fill="#333">N</text>
<text x="244" y="465.4" font-size="2.9" text-anchor="start" font-weight="normal" fill="#2a2a2a" transform="rotate(-90 244 465.4)" stroke="#2a2a2a" stroke-width="0.12">~220V±15%</text>
<text x="242.5" y="465.4" font-size="2.4" text-anchor="start" font-weight="normal" fill="#444" transform="rotate(-90 242.5 465.4)">50/60Hz</text>
<text x="257.6" y="465.1" font-size="2.4" text-anchor="start" font-weight="normal" fill="#2a2a2a" transform="rotate(-90 257.6 465.1)" stroke="#2a2a2a" stroke-width="0.1">Сброс/Пуск</text>
<path d="M267.3 470.7V468.3L268.5 466.9H275.6L276.8 468.3V470.7" fill="none" stroke="#333" stroke-width="0.8"/>
<text x="272.05" y="465.5" font-size="2.6" text-anchor="middle" font-weight="normal" fill="#2a2a2a" stroke="#2a2a2a" stroke-width="0.1">Работа</text>
<path d="M286.2 470.7V468.3L287.4 466.9H294.6L295.8 468.3V470.7" fill="none" stroke="#333" stroke-width="0.8"/>
<text x="291" y="465.5" font-size="2.6" text-anchor="middle" font-weight="normal" fill="#2a2a2a" stroke="#2a2a2a" stroke-width="0.1">Авария</text>
<line x1="305.3" y1="469.5" x2="305.3" y2="460.2" stroke="#555" stroke-width="0.9"/>
<line x1="305.3" y1="469.5" x2="305.3" y2="460.2" stroke="#333" stroke-width="1.1" stroke-dasharray="2 1.1"/>
<line x1="314.9" y1="469.5" x2="314.9" y2="460.2" stroke="#555" stroke-width="0.9"/>
<line x1="314.9" y1="469.5" x2="314.9" y2="460.2" stroke="#333" stroke-width="1.1" stroke-dasharray="2 1.1"/>
<line x1="324.4" y1="470.7" x2="324.4" y2="463.1" stroke="#333" stroke-width="0.8"/>
<line x1="321.8" y1="467.3" x2="327" y2="467.3" stroke="#333" stroke-width="0.8"/>
<line x1="322.7" y1="468.5" x2="326.1" y2="468.5" stroke="#333" stroke-width="0.7"/>
<line x1="323.6" y1="469.6" x2="325.2" y2="469.6" stroke="#333" stroke-width="0.6"/>
<line x1="214.2" y1="482.4" x2="348.7" y2="482.4" stroke="#4a4a4a" stroke-width="1"/>
<line x1="214.2" y1="498.2" x2="348.7" y2="498.2" stroke="#4a4a4a" stroke-width="1"/>
<line x1="214.2" y1="516.7" x2="348.7" y2="516.7" stroke="#4a4a4a" stroke-width="1"/>
<line x1="236.3" y1="498.2" x2="236.3" y2="516.7" stroke="#4a4a4a" stroke-width="1"/>
<line x1="327" y1="498.2" x2="327" y2="516.7" stroke="#4a4a4a" stroke-width="1"/>
<circle cx="225.3" cy="505.9" r="5.2" fill="none" stroke="#333" stroke-width="1.1"/>
<line x1="220.1" y1="505.9" x2="230.5" y2="505.9" stroke="#333" stroke-width="1.3"/>
<line x1="225.3" y1="500.7" x2="225.3" y2="511.1" stroke="#333" stroke-width="1.3"/>
<circle cx="250.5" cy="505.9" r="5.2" fill="none" stroke="#333" stroke-width="1.1"/>
<line x1="245.3" y1="505.9" x2="255.7" y2="505.9" stroke="#333" stroke-width="1.3"/>
<line x1="250.5" y1="500.7" x2="250.5" y2="511.1" stroke="#333" stroke-width="1.3"/>
<circle cx="281.8" cy="505.9" r="5.2" fill="none" stroke="#333" stroke-width="1.1"/>
<line x1="276.6" y1="505.9" x2="287" y2="505.9" stroke="#333" stroke-width="1.3"/>
<line x1="281.8" y1="500.7" x2="281.8" y2="511.1" stroke="#333" stroke-width="1.3"/>
<circle cx="312.2" cy="505.9" r="5.2" fill="none" stroke="#333" stroke-width="1.1"/>
<line x1="307" y1="505.9" x2="317.4" y2="505.9" stroke="#333" stroke-width="1.3"/>
<line x1="312.2" y1="500.7" x2="312.2" y2="511.1" stroke="#333" stroke-width="1.3"/>
<circle cx="338.4" cy="505.9" r="5.2" fill="none" stroke="#333" stroke-width="1.1"/>
<line x1="333.2" y1="505.9" x2="343.6" y2="505.9" stroke="#333" stroke-width="1.3"/>
<line x1="338.4" y1="500.7" x2="338.4" y2="511.1" stroke="#333" stroke-width="1.3"/>
<path d="M234.8 516.7V524A4 4 0 0 0 242.8 524V516.7" fill="none" stroke="#4a4a4a" stroke-width="0.9"/>
<path d="M320.3 516.7V524A4 4 0 0 0 328.3 524V516.7" fill="none" stroke="#4a4a4a" stroke-width="0.9"/>
<line x1="233.3" y1="521.5" x2="245" y2="521.5" stroke="#4a4a4a" stroke-width="0.9"/>
<line x1="318.6" y1="521.5" x2="362.6" y2="521.5" stroke="#4a4a4a" stroke-width="0.9"/>
<line x1="238.8" y1="514.8" x2="238.8" y2="551" stroke="#333" stroke-width="0.9"/>
<line x1="324.3" y1="514.8" x2="324.3" y2="551" stroke="#333" stroke-width="0.9"/>
<line x1="238.8" y1="549.2" x2="324.3" y2="549.2" stroke="#4a4a4a" stroke-width="1"/>
<polygon points="238.8,549.2 246,547.45 246,550.95" fill="#1a1a1a"/>
<polygon points="324.3,549.2 317.1,547.45 317.1,550.95" fill="#1a1a1a"/>
<text x="284.2" y="546.7" font-size="9" text-anchor="middle" font-weight="normal" fill="#222" stroke="#222" stroke-width="0.28">68</text>
<line x1="200.2" y1="281.3" x2="214.2" y2="281.3" stroke="#4a4a4a" stroke-width="1"/>
<line x1="200.2" y1="531.3" x2="214.2" y2="531.3" stroke="#4a4a4a" stroke-width="1"/>
<line x1="202.2" y1="281.3" x2="202.2" y2="531.3" stroke="#4a4a4a" stroke-width="1"/>
<polygon points="202.2,281.3 200.45,288.5 203.95,288.5" fill="#1a1a1a"/>
<polygon points="202.2,531.3 200.45,524.1 203.95,524.1" fill="#1a1a1a"/>
<text x="200.9" y="403" font-size="9" text-anchor="middle" font-weight="normal" fill="#222" transform="rotate(-90 200.9 403)" stroke="#222" stroke-width="0.28">200</text>
<line x1="360.7" y1="293.7" x2="360.7" y2="521.5" stroke="#4a4a4a" stroke-width="1"/>
<polygon points="360.7,293.7 358.95,300.9 362.45,300.9" fill="#1a1a1a"/>
<polygon points="360.7,521.5 358.95,514.3 362.45,514.3" fill="#1a1a1a"/>
<text x="359.5" y="405.25" font-size="9" text-anchor="middle" font-weight="normal" fill="#222" transform="rotate(-90 359.5 405.25)" stroke="#222" stroke-width="0.28">182</text>
<text x="282" y="571.5" font-size="12.8" text-anchor="middle" font-weight="normal" fill="#1a1a1a" textLength="62.4" lengthAdjust="spacingAndGlyphs" stroke="#1a1a1a" stroke-width="0.28">11 - 15кВт</text>
<line x1="390" y1="253.3" x2="547.5" y2="253.3" stroke="#4a4a4a" stroke-width="1"/>
<line x1="390" y1="253.3" x2="390" y2="530.8" stroke="#4a4a4a" stroke-width="1"/>
<line x1="547.5" y1="253.3" x2="547.5" y2="530.8" stroke="#4a4a4a" stroke-width="1"/>
<line x1="390" y1="530.8" x2="416.5" y2="530.8" stroke="#4a4a4a" stroke-width="1"/>
<line x1="424.1" y1="530.8" x2="516.5" y2="530.8" stroke="#4a4a4a" stroke-width="1"/>
<line x1="524.1" y1="530.8" x2="547.5" y2="530.8" stroke="#4a4a4a" stroke-width="1"/>
<line x1="420.3" y1="244.5" x2="420.3" y2="271.5" stroke="#333" stroke-width="0.9"/>
<line x1="520.3" y1="244.5" x2="520.3" y2="271.5" stroke="#333" stroke-width="0.9"/>
<line x1="420.3" y1="246.3" x2="520.3" y2="246.3" stroke="#4a4a4a" stroke-width="1"/>
<polygon points="420.3,246.3 427.5,244.55 427.5,248.05" fill="#1a1a1a"/>
<polygon points="520.3,246.3 513.1,244.55 513.1,248.05" fill="#1a1a1a"/>
<text x="474.9" y="244.2" font-size="9" text-anchor="middle" font-weight="normal" fill="#222" stroke="#222" stroke-width="0.28">80</text>
<path d="M414.7 265.6L417.6 261.71V260.2A2.7 2.7 0 0 1 423 260.2V261.71L425.9 265.6Z" fill="none" stroke="#4a4a4a" stroke-width="0.9"/>
<line x1="414.7" y1="265.6" x2="414.7" y2="268.3" stroke="#4a4a4a" stroke-width="0.9"/>
<line x1="425.9" y1="265.6" x2="425.9" y2="268.3" stroke="#4a4a4a" stroke-width="0.9"/>
<path d="M514.7 265.6L517.6 261.71V260.2A2.7 2.7 0 0 1 523 260.2V261.71L525.9 265.6Z" fill="none" stroke="#4a4a4a" stroke-width="0.9"/>
<line x1="514.7" y1="265.6" x2="514.7" y2="268.3" stroke="#4a4a4a" stroke-width="0.9"/>
<line x1="525.9" y1="265.6" x2="525.9" y2="268.3" stroke="#4a4a4a" stroke-width="0.9"/>
<line x1="525.9" y1="265.6" x2="566.8" y2="265.6" stroke="#4a4a4a" stroke-width="1"/>
<line x1="390" y1="268.3" x2="525.5" y2="268.3" stroke="#4a4a4a" stroke-width="1"/>
<line x1="390" y1="287" x2="525.5" y2="287" stroke="#4a4a4a" stroke-width="1"/>
<line x1="414.5" y1="268.3" x2="414.5" y2="287" stroke="#4a4a4a" stroke-width="1"/>
<line x1="525.5" y1="268.3" x2="525.5" y2="287" stroke="#4a4a4a" stroke-width="1"/>
<circle cx="401.6" cy="279.5" r="5.2" fill="none" stroke="#333" stroke-width="1.1"/>
<line x1="396.4" y1="279.5" x2="406.8" y2="279.5" stroke="#333" stroke-width="1.3"/>
<line x1="401.6" y1="274.3" x2="401.6" y2="284.7" stroke="#333" stroke-width="1.3"/>
<circle cx="422" cy="279.5" r="5.2" fill="none" stroke="#333" stroke-width="1.1"/>
<line x1="416.8" y1="279.5" x2="427.2" y2="279.5" stroke="#333" stroke-width="1.3"/>
<line x1="422" y1="274.3" x2="422" y2="284.7" stroke="#333" stroke-width="1.3"/>
<circle cx="469.5" cy="279.5" r="5.2" fill="none" stroke="#333" stroke-width="1.1"/>
<line x1="464.3" y1="279.5" x2="474.7" y2="279.5" stroke="#333" stroke-width="1.3"/>
<line x1="469.5" y1="274.3" x2="469.5" y2="284.7" stroke="#333" stroke-width="1.3"/>
<circle cx="518.6" cy="279.5" r="5.2" fill="none" stroke="#333" stroke-width="1.1"/>
<line x1="513.4" y1="279.5" x2="523.8" y2="279.5" stroke="#333" stroke-width="1.3"/>
<line x1="518.6" y1="274.3" x2="518.6" y2="284.7" stroke="#333" stroke-width="1.3"/>
<circle cx="537.2" cy="279.5" r="5.2" fill="none" stroke="#333" stroke-width="1.1"/>
<line x1="532" y1="279.5" x2="542.4" y2="279.5" stroke="#333" stroke-width="1.3"/>
<line x1="537.2" y1="274.3" x2="537.2" y2="284.7" stroke="#333" stroke-width="1.3"/>
<rect x="412.2" y="324.7" width="113.5" height="136.1" rx="0" fill="none" stroke="#555" stroke-width="1"/>
<rect x="414.2" y="327.2" width="109.4" height="100.2" rx="1.8" fill="#ebebeb" stroke="#5a5a5a" stroke-width="1"/>
<text x="417.8" y="337.3" font-size="8.6" text-anchor="start" font-weight="bold" fill="#1c1c1c" letter-spacing="-0.15" stroke="#1c1c1c" stroke-width="0.35">oni</text>
<circle cx="436.2" cy="345.8" r="1.75" fill="#111" stroke="#111" stroke-width="0.4"/>
<circle cx="451.3" cy="345.8" r="1.75" fill="#111" stroke="#111" stroke-width="0.4"/>
<circle cx="466.4" cy="345.8" r="1.75" fill="#111" stroke="#111" stroke-width="0.4"/>
<circle cx="481" cy="345.8" r="1.75" fill="#111" stroke="#111" stroke-width="0.4"/>
<text x="429.2" y="353.2" font-size="3.9" text-anchor="start" font-weight="normal" fill="#2a2a2a" textLength="14.7" lengthAdjust="spacingAndGlyphs" stroke="#2a2a2a" stroke-width="0.12">Питание</text>
<text x="445.5" y="353.2" font-size="3.9" text-anchor="start" font-weight="normal" fill="#2a2a2a" textLength="11.7" lengthAdjust="spacingAndGlyphs" stroke="#2a2a2a" stroke-width="0.12">Работа</text>
<text x="460.2" y="353.2" font-size="3.9" text-anchor="start" font-weight="normal" fill="#2a2a2a" textLength="14.5" lengthAdjust="spacingAndGlyphs" stroke="#2a2a2a" stroke-width="0.12">Авария1</text>
<text x="477" y="353.2" font-size="3.9" text-anchor="start" font-weight="normal" fill="#2a2a2a" textLength="14.5" lengthAdjust="spacingAndGlyphs" stroke="#2a2a2a" stroke-width="0.12">Авария2</text>
<rect x="420.5" y="368.7" width="60.5" height="48.3" rx="1.8" fill="#e7e7e7" stroke="#5a5a5a" stroke-width="1.05"/>
<line x1="430.8" y1="374.8" x2="430.8" y2="408.8" stroke="#3a3a3a" stroke-width="0.8"/>
<circle cx="430.8" cy="374.8" r="0.85" fill="#3a3a3a" stroke="#3a3a3a" stroke-width="0.3"/>
<circle cx="430.8" cy="408.8" r="0.85" fill="#3a3a3a" stroke="#3a3a3a" stroke-width="0.3"/>
<path d="M433.8 380.37A3.16 2.76 0 1 0 433.8 385.89" fill="none" stroke="#2a2a2a" stroke-width="1.15"/>
<line x1="433.2" y1="380.07" x2="435.8" y2="380.07" stroke="#2a2a2a" stroke-width="0.8"/>
<line x1="433.2" y1="386.19" x2="435.8" y2="386.19" stroke="#2a2a2a" stroke-width="0.8"/>
<polygon points="438.2,380.07 435.2,378.77 435.2,381.37" fill="#1a1a1a"/>
<polygon points="438.2,386.19 435.2,384.89 435.2,387.49" fill="#1a1a1a"/>
<text x="428.5" y="384.03" font-size="2.3" text-anchor="end" font-weight="normal" fill="#444">CT</text>
<path d="M430.8 387.38H438.4V405.4H431.8V401.2H438.4" fill="none" stroke="#555" stroke-width="0.75"/>
<rect x="427.6" y="390.78" width="7.6" height="11.22" rx="0" fill="#f2f2f2" stroke="#555" stroke-width="0.75"/>
<polygon points="425.8,398.49 428.2,394.79 430.5,398.49" fill="#fff" stroke="#333" stroke-width="0.7"/>
<polygon points="431.1,394.79 435.8,394.79 433.4,398.49" fill="#fff" stroke="#333" stroke-width="0.7"/>
<line x1="425.4" y1="394.69" x2="436.4" y2="394.69" stroke="#333" stroke-width="0.7"/>
<line x1="425.4" y1="398.59" x2="436.4" y2="398.59" stroke="#333" stroke-width="0.7"/>
<line x1="424.2" y1="389.58" x2="427.4" y2="394.79" stroke="#444" stroke-width="1"/>
<rect x="430.2" y="391.68" width="3.2" height="1.9" rx="0" fill="none" stroke="#666" stroke-width="0.5"/>
<rect x="435.4" y="398.8" width="2.8" height="2.8" rx="0" fill="none" stroke="#666" stroke-width="0.5"/>
<text x="431.4" y="373.3" font-size="2.7" text-anchor="middle" font-weight="normal" fill="#333">L1/R</text>
<text x="431.8" y="412.4" font-size="2.7" text-anchor="middle" font-weight="normal" fill="#333">T1/U</text>
<line x1="450.2" y1="374.8" x2="450.2" y2="408.8" stroke="#3a3a3a" stroke-width="0.8"/>
<circle cx="450.2" cy="374.8" r="0.85" fill="#3a3a3a" stroke="#3a3a3a" stroke-width="0.3"/>
<circle cx="450.2" cy="408.8" r="0.85" fill="#3a3a3a" stroke="#3a3a3a" stroke-width="0.3"/>
<path d="M453.2 380.37A3.16 2.76 0 1 0 453.2 385.89" fill="none" stroke="#2a2a2a" stroke-width="1.15"/>
<line x1="452.6" y1="380.07" x2="455.2" y2="380.07" stroke="#2a2a2a" stroke-width="0.8"/>
<line x1="452.6" y1="386.19" x2="455.2" y2="386.19" stroke="#2a2a2a" stroke-width="0.8"/>
<polygon points="457.6,380.07 454.6,378.77 454.6,381.37" fill="#1a1a1a"/>
<polygon points="457.6,386.19 454.6,384.89 454.6,387.49" fill="#1a1a1a"/>
<text x="447.9" y="384.03" font-size="2.3" text-anchor="end" font-weight="normal" fill="#444">CT</text>
<path d="M450.2 387.38H457.8V405.4H451.2V401.2H457.8" fill="none" stroke="#555" stroke-width="0.75"/>
<rect x="447" y="390.78" width="7.6" height="11.22" rx="0" fill="#f2f2f2" stroke="#555" stroke-width="0.75"/>
<polygon points="445.2,398.49 447.6,394.79 449.9,398.49" fill="#fff" stroke="#333" stroke-width="0.7"/>
<polygon points="450.5,394.79 455.2,394.79 452.8,398.49" fill="#fff" stroke="#333" stroke-width="0.7"/>
<line x1="444.8" y1="394.69" x2="455.8" y2="394.69" stroke="#333" stroke-width="0.7"/>
<line x1="444.8" y1="398.59" x2="455.8" y2="398.59" stroke="#333" stroke-width="0.7"/>
<line x1="443.6" y1="389.58" x2="446.8" y2="394.79" stroke="#444" stroke-width="1"/>
<rect x="449.6" y="391.68" width="3.2" height="1.9" rx="0" fill="none" stroke="#666" stroke-width="0.5"/>
<rect x="454.8" y="398.8" width="2.8" height="2.8" rx="0" fill="none" stroke="#666" stroke-width="0.5"/>
<text x="450.8" y="373.3" font-size="2.7" text-anchor="middle" font-weight="normal" fill="#333">L2/S</text>
<text x="451.2" y="412.4" font-size="2.7" text-anchor="middle" font-weight="normal" fill="#333">T2/V</text>
<line x1="469.3" y1="374.8" x2="469.3" y2="408.8" stroke="#3a3a3a" stroke-width="0.8"/>
<circle cx="469.3" cy="374.8" r="0.85" fill="#3a3a3a" stroke="#3a3a3a" stroke-width="0.3"/>
<circle cx="469.3" cy="408.8" r="0.85" fill="#3a3a3a" stroke="#3a3a3a" stroke-width="0.3"/>
<path d="M472.3 380.37A3.16 2.76 0 1 0 472.3 385.89" fill="none" stroke="#2a2a2a" stroke-width="1.15"/>
<line x1="471.7" y1="380.07" x2="474.3" y2="380.07" stroke="#2a2a2a" stroke-width="0.8"/>
<line x1="471.7" y1="386.19" x2="474.3" y2="386.19" stroke="#2a2a2a" stroke-width="0.8"/>
<polygon points="476.7,380.07 473.7,378.77 473.7,381.37" fill="#1a1a1a"/>
<polygon points="476.7,386.19 473.7,384.89 473.7,387.49" fill="#1a1a1a"/>
<text x="467" y="384.03" font-size="2.3" text-anchor="end" font-weight="normal" fill="#444">CT</text>
<path d="M469.3 387.38H476.9V405.4H470.3V401.2H476.9" fill="none" stroke="#555" stroke-width="0.75"/>
<rect x="466.1" y="390.78" width="7.6" height="11.22" rx="0" fill="#f2f2f2" stroke="#555" stroke-width="0.75"/>
<polygon points="464.3,398.49 466.7,394.79 469,398.49" fill="#fff" stroke="#333" stroke-width="0.7"/>
<polygon points="469.6,394.79 474.3,394.79 471.9,398.49" fill="#fff" stroke="#333" stroke-width="0.7"/>
<line x1="463.9" y1="394.69" x2="474.9" y2="394.69" stroke="#333" stroke-width="0.7"/>
<line x1="463.9" y1="398.59" x2="474.9" y2="398.59" stroke="#333" stroke-width="0.7"/>
<line x1="462.7" y1="389.58" x2="465.9" y2="394.79" stroke="#444" stroke-width="1"/>
<rect x="468.7" y="391.68" width="3.2" height="1.9" rx="0" fill="none" stroke="#666" stroke-width="0.5"/>
<rect x="473.9" y="398.8" width="2.8" height="2.8" rx="0" fill="none" stroke="#666" stroke-width="0.5"/>
<text x="469.9" y="373.3" font-size="2.7" text-anchor="middle" font-weight="normal" fill="#333">L3/T</text>
<text x="470.3" y="412.4" font-size="2.7" text-anchor="middle" font-weight="normal" fill="#333">T3/W</text>
<circle cx="503.1" cy="382.7" r="5.7" fill="#efefef" stroke="#3c3c3c" stroke-width="0.85"/>
<circle cx="503.1" cy="382.7" r="4.2" fill="none" stroke="#8a8a8a" stroke-width="0.45"/>
<line x1="500.25" y1="379.85" x2="505.95" y2="385.55" stroke="#4a4a4a" stroke-width="1.9"/>
<line x1="500.25" y1="385.55" x2="505.95" y2="379.85" stroke="#4a4a4a" stroke-width="1.9"/>
<line x1="500.75" y1="380.35" x2="505.45" y2="385.05" stroke="#e4e4e4" stroke-width="0.55"/>
<line x1="500.75" y1="385.05" x2="505.45" y2="380.35" stroke="#e4e4e4" stroke-width="0.55"/>
<circle cx="504.2" cy="381.8" r="0.75" fill="#222" stroke="#222" stroke-width="0.3"/>
<line x1="498.34" y1="379.95" x2="497.21" y2="379.3" stroke="#555" stroke-width="0.5"/>
<line x1="500.35" y1="377.94" x2="499.7" y2="376.81" stroke="#555" stroke-width="0.5"/>
<line x1="505.85" y1="377.94" x2="506.5" y2="376.81" stroke="#555" stroke-width="0.5"/>
<line x1="507.86" y1="379.95" x2="508.99" y2="379.3" stroke="#555" stroke-width="0.5"/>
<line x1="508.6" y1="382.7" x2="509.9" y2="382.7" stroke="#555" stroke-width="0.5"/>
<line x1="507.86" y1="385.45" x2="508.99" y2="386.1" stroke="#555" stroke-width="0.5"/>
<line x1="498.34" y1="385.45" x2="497.21" y2="386.1" stroke="#555" stroke-width="0.5"/>
<line x1="497.6" y1="382.7" x2="496.3" y2="382.7" stroke="#555" stroke-width="0.5"/>
<rect x="510.7" y="379.3" width="1" height="0.9" rx="0" fill="#444" stroke="#444" stroke-width="0.3"/>
<line x1="509.2" y1="387.7" x2="513.2" y2="387.7" stroke="#666" stroke-width="0.9"/>
<line x1="497" y1="387.5" x2="499.4" y2="387.5" stroke="#666" stroke-width="0.8"/>
<line x1="495" y1="380.1" x2="497.6" y2="380.1" stroke="#555" stroke-width="0.8"/>
<rect x="502.6" y="374.4" width="1" height="0.9" rx="0" fill="#444" stroke="#444" stroke-width="0.3"/>
<path d="M485.2 379.5V385.9H492.4M485.2 382.38L488.44 381.42" fill="none" stroke="#333" stroke-width="1"/>
<rect x="489.66" y="380.01" width="1.15" height="1.02" rx="0" fill="#333" stroke="#333" stroke-width="0.3"/>
<circle cx="503.1" cy="398.2" r="5.7" fill="#efefef" stroke="#3c3c3c" stroke-width="0.85"/>
<circle cx="503.1" cy="398.2" r="4.2" fill="none" stroke="#8a8a8a" stroke-width="0.45"/>
<line x1="500.25" y1="395.35" x2="505.95" y2="401.05" stroke="#4a4a4a" stroke-width="1.9"/>
<line x1="500.25" y1="401.05" x2="505.95" y2="395.35" stroke="#4a4a4a" stroke-width="1.9"/>
<line x1="500.75" y1="395.85" x2="505.45" y2="400.55" stroke="#e4e4e4" stroke-width="0.55"/>
<line x1="500.75" y1="400.55" x2="505.45" y2="395.85" stroke="#e4e4e4" stroke-width="0.55"/>
<circle cx="504.2" cy="397.3" r="0.75" fill="#222" stroke="#222" stroke-width="0.3"/>
<line x1="498.34" y1="395.45" x2="497.21" y2="394.8" stroke="#555" stroke-width="0.5"/>
<line x1="500.35" y1="393.44" x2="499.7" y2="392.31" stroke="#555" stroke-width="0.5"/>
<line x1="505.85" y1="393.44" x2="506.5" y2="392.31" stroke="#555" stroke-width="0.5"/>
<line x1="507.86" y1="395.45" x2="508.99" y2="394.8" stroke="#555" stroke-width="0.5"/>
<line x1="508.6" y1="398.2" x2="509.9" y2="398.2" stroke="#555" stroke-width="0.5"/>
<line x1="507.86" y1="400.95" x2="508.99" y2="401.6" stroke="#555" stroke-width="0.5"/>
<line x1="498.34" y1="400.95" x2="497.21" y2="401.6" stroke="#555" stroke-width="0.5"/>
<line x1="497.6" y1="398.2" x2="496.3" y2="398.2" stroke="#555" stroke-width="0.5"/>
<rect x="510.7" y="394.8" width="1" height="0.9" rx="0" fill="#444" stroke="#444" stroke-width="0.3"/>
<line x1="509.2" y1="403.2" x2="513.2" y2="403.2" stroke="#666" stroke-width="0.9"/>
<line x1="497" y1="403" x2="499.4" y2="403" stroke="#666" stroke-width="0.8"/>
<line x1="495" y1="395.6" x2="497.6" y2="395.6" stroke="#555" stroke-width="0.8"/>
<rect x="502.6" y="389.9" width="1" height="0.9" rx="0" fill="#444" stroke="#444" stroke-width="0.3"/>
<path d="M485.2 395V401.4H492.4M485.2 401.4L488.08 396.6H492.4" fill="none" stroke="#333" stroke-width="1"/>
<circle cx="503.1" cy="413" r="5.7" fill="#efefef" stroke="#3c3c3c" stroke-width="0.85"/>
<circle cx="503.1" cy="413" r="4.2" fill="none" stroke="#8a8a8a" stroke-width="0.45"/>
<line x1="500.25" y1="410.15" x2="505.95" y2="415.85" stroke="#4a4a4a" stroke-width="1.9"/>
<line x1="500.25" y1="415.85" x2="505.95" y2="410.15" stroke="#4a4a4a" stroke-width="1.9"/>
<line x1="500.75" y1="410.65" x2="505.45" y2="415.35" stroke="#e4e4e4" stroke-width="0.55"/>
<line x1="500.75" y1="415.35" x2="505.45" y2="410.65" stroke="#e4e4e4" stroke-width="0.55"/>
<circle cx="504.2" cy="412.1" r="0.75" fill="#222" stroke="#222" stroke-width="0.3"/>
<line x1="498.34" y1="410.25" x2="497.21" y2="409.6" stroke="#555" stroke-width="0.5"/>
<line x1="500.35" y1="408.24" x2="499.7" y2="407.11" stroke="#555" stroke-width="0.5"/>
<line x1="505.85" y1="408.24" x2="506.5" y2="407.11" stroke="#555" stroke-width="0.5"/>
<line x1="507.86" y1="410.25" x2="508.99" y2="409.6" stroke="#555" stroke-width="0.5"/>
<line x1="508.6" y1="413" x2="509.9" y2="413" stroke="#555" stroke-width="0.5"/>
<line x1="507.86" y1="415.75" x2="508.99" y2="416.4" stroke="#555" stroke-width="0.5"/>
<line x1="498.34" y1="415.75" x2="497.21" y2="416.4" stroke="#555" stroke-width="0.5"/>
<line x1="497.6" y1="413" x2="496.3" y2="413" stroke="#555" stroke-width="0.5"/>
<rect x="510.7" y="409.6" width="1" height="0.9" rx="0" fill="#444" stroke="#444" stroke-width="0.3"/>
<line x1="509.2" y1="418" x2="513.2" y2="418" stroke="#666" stroke-width="0.9"/>
<line x1="497" y1="417.8" x2="499.4" y2="417.8" stroke="#666" stroke-width="0.8"/>
<line x1="495" y1="410.4" x2="497.6" y2="410.4" stroke="#555" stroke-width="0.8"/>
<rect x="502.6" y="404.7" width="1" height="0.9" rx="0" fill="#444" stroke="#444" stroke-width="0.3"/>
<path d="M485.2 416.2V409.8H489.16L492.4 416.2Z" fill="none" stroke="#333" stroke-width="1"/>
<rect x="490.82" y="409.8" width="1.01" height="1.02" rx="0" fill="#333" stroke="#333" stroke-width="0.3"/>
<circle cx="426.2" cy="452.2" r="3.1" fill="#fff" stroke="#333" stroke-width="1"/>
<text x="426.2" y="459.6" font-size="3.8" text-anchor="middle" font-weight="normal" fill="#222" stroke="#222" stroke-width="0.15">1</text>
<circle cx="435.6" cy="452.2" r="3.1" fill="#fff" stroke="#333" stroke-width="1"/>
<text x="435.6" y="459.6" font-size="3.8" text-anchor="middle" font-weight="normal" fill="#222" stroke="#222" stroke-width="0.15">2</text>
<circle cx="445" cy="452.2" r="3.1" fill="#fff" stroke="#333" stroke-width="1"/>
<text x="445" y="459.6" font-size="3.8" text-anchor="middle" font-weight="normal" fill="#222" stroke="#222" stroke-width="0.15">3</text>
<circle cx="454.5" cy="452.2" r="3.1" fill="#fff" stroke="#333" stroke-width="1"/>
<text x="454.5" y="459.6" font-size="3.8" text-anchor="middle" font-weight="normal" fill="#222" stroke="#222" stroke-width="0.15">4</text>
<circle cx="463.9" cy="452.2" r="3.1" fill="#fff" stroke="#333" stroke-width="1"/>
<text x="463.9" y="459.6" font-size="3.8" text-anchor="middle" font-weight="normal" fill="#222" stroke="#222" stroke-width="0.15">5</text>
<circle cx="473.4" cy="452.2" r="3.1" fill="#fff" stroke="#333" stroke-width="1"/>
<text x="473.4" y="459.6" font-size="3.8" text-anchor="middle" font-weight="normal" fill="#222" stroke="#222" stroke-width="0.15">6</text>
<circle cx="482.8" cy="452.2" r="3.1" fill="#fff" stroke="#333" stroke-width="1"/>
<text x="482.8" y="459.6" font-size="3.8" text-anchor="middle" font-weight="normal" fill="#222" stroke="#222" stroke-width="0.15">7</text>
<circle cx="492.9" cy="452.2" r="3.1" fill="#fff" stroke="#333" stroke-width="1"/>
<text x="492.9" y="459.6" font-size="3.8" text-anchor="middle" font-weight="normal" fill="#222" stroke="#222" stroke-width="0.15">8</text>
<circle cx="502.3" cy="452.2" r="3.1" fill="#fff" stroke="#333" stroke-width="1"/>
<text x="502.3" y="459.6" font-size="3.8" text-anchor="middle" font-weight="normal" fill="#222" stroke="#222" stroke-width="0.15">9</text>
<circle cx="511.9" cy="452.2" r="3.1" fill="#fff" stroke="#333" stroke-width="1"/>
<text x="511.9" y="459.6" font-size="3.8" text-anchor="middle" font-weight="normal" fill="#222" stroke="#222" stroke-width="0.15">10</text>
<path d="M426.2 449.1V445.3H438.6l1.5 1.2H445V449.1M435.6 449.1V443.8" fill="none" stroke="#333" stroke-width="0.8"/>
<circle cx="426.2" cy="445.3" r="0.7" fill="#222" stroke="#222" stroke-width="0.5"/>
<line x1="424.6" y1="441.1" x2="425.8" y2="444.3" stroke="#333" stroke-width="0.6"/>
<text x="436.8" y="443.1" font-size="3" text-anchor="start" font-weight="normal" fill="#333">N</text>
<text x="431.6" y="443.8" font-size="2.9" text-anchor="start" font-weight="normal" fill="#2a2a2a" transform="rotate(-90 431.6 443.8)" stroke="#2a2a2a" stroke-width="0.12">~220V±15%</text>
<text x="430.1" y="443.8" font-size="2.4" text-anchor="start" font-weight="normal" fill="#444" transform="rotate(-90 430.1 443.8)">50/60Hz</text>
<text x="444.8" y="443.5" font-size="2.4" text-anchor="start" font-weight="normal" fill="#2a2a2a" transform="rotate(-90 444.8 443.5)" stroke="#2a2a2a" stroke-width="0.1">Сброс/Пуск</text>
<path d="M454.5 449.1V446.7L455.7 445.3H462.7L463.9 446.7V449.1" fill="none" stroke="#333" stroke-width="0.8"/>
<text x="459.2" y="443.9" font-size="2.6" text-anchor="middle" font-weight="normal" fill="#2a2a2a" stroke="#2a2a2a" stroke-width="0.1">Работа</text>
<path d="M473.4 449.1V446.7L474.6 445.3H481.6L482.8 446.7V449.1" fill="none" stroke="#333" stroke-width="0.8"/>
<text x="478.1" y="443.9" font-size="2.6" text-anchor="middle" font-weight="normal" fill="#2a2a2a" stroke="#2a2a2a" stroke-width="0.1">Авария</text>
<line x1="492.9" y1="447.9" x2="492.9" y2="438.6" stroke="#555" stroke-width="0.9"/>
<line x1="492.9" y1="447.9" x2="492.9" y2="438.6" stroke="#333" stroke-width="1.1" stroke-dasharray="2 1.1"/>
<line x1="502.3" y1="447.9" x2="502.3" y2="438.6" stroke="#555" stroke-width="0.9"/>
<line x1="502.3" y1="447.9" x2="502.3" y2="438.6" stroke="#333" stroke-width="1.1" stroke-dasharray="2 1.1"/>
<line x1="511.9" y1="449.1" x2="511.9" y2="441.5" stroke="#333" stroke-width="0.8"/>
<line x1="509.3" y1="445.7" x2="514.5" y2="445.7" stroke="#333" stroke-width="0.8"/>
<line x1="510.2" y1="446.9" x2="513.6" y2="446.9" stroke="#333" stroke-width="0.7"/>
<line x1="511.1" y1="448" x2="512.7" y2="448" stroke="#333" stroke-width="0.6"/>
<line x1="390" y1="460.8" x2="547.5" y2="460.8" stroke="#4a4a4a" stroke-width="1"/>
<line x1="390" y1="497.8" x2="547.5" y2="497.8" stroke="#4a4a4a" stroke-width="1"/>
<line x1="390" y1="516.7" x2="547.5" y2="516.7" stroke="#4a4a4a" stroke-width="1"/>
<line x1="415.3" y1="497.8" x2="415.3" y2="516.7" stroke="#4a4a4a" stroke-width="1"/>
<line x1="525.5" y1="497.8" x2="525.5" y2="516.7" stroke="#4a4a4a" stroke-width="1"/>
<circle cx="401.4" cy="505.8" r="5.2" fill="none" stroke="#333" stroke-width="1.1"/>
<line x1="396.2" y1="505.8" x2="406.6" y2="505.8" stroke="#333" stroke-width="1.3"/>
<line x1="401.4" y1="500.6" x2="401.4" y2="511" stroke="#333" stroke-width="1.3"/>
<circle cx="422" cy="505.8" r="5.2" fill="none" stroke="#333" stroke-width="1.1"/>
<line x1="416.8" y1="505.8" x2="427.2" y2="505.8" stroke="#333" stroke-width="1.3"/>
<line x1="422" y1="500.6" x2="422" y2="511" stroke="#333" stroke-width="1.3"/>
<circle cx="469.5" cy="505.8" r="5.2" fill="none" stroke="#333" stroke-width="1.1"/>
<line x1="464.3" y1="505.8" x2="474.7" y2="505.8" stroke="#333" stroke-width="1.3"/>
<line x1="469.5" y1="500.6" x2="469.5" y2="511" stroke="#333" stroke-width="1.3"/>
<circle cx="518.6" cy="505.8" r="5.2" fill="none" stroke="#333" stroke-width="1.1"/>
<line x1="513.4" y1="505.8" x2="523.8" y2="505.8" stroke="#333" stroke-width="1.3"/>
<line x1="518.6" y1="500.6" x2="518.6" y2="511" stroke="#333" stroke-width="1.3"/>
<circle cx="537.2" cy="505.8" r="5.2" fill="none" stroke="#333" stroke-width="1.1"/>
<line x1="532" y1="505.8" x2="542.4" y2="505.8" stroke="#333" stroke-width="1.3"/>
<line x1="537.2" y1="500.6" x2="537.2" y2="511" stroke="#333" stroke-width="1.3"/>
<path d="M416.5 530.8V526.2A3.8 3.8 0 0 1 424.1 526.2V530.8" fill="none" stroke="#4a4a4a" stroke-width="0.9"/>
<path d="M516.5 530.8V526.2A3.8 3.8 0 0 1 524.1 526.2V530.8" fill="none" stroke="#4a4a4a" stroke-width="0.9"/>
<line x1="410.8" y1="525.6" x2="430" y2="525.6" stroke="#4a4a4a" stroke-width="0.9"/>
<line x1="510.5" y1="525.6" x2="566.8" y2="525.6" stroke="#4a4a4a" stroke-width="0.9"/>
<line x1="420.3" y1="517.5" x2="420.3" y2="550.5" stroke="#333" stroke-width="0.9"/>
<line x1="520.3" y1="517.5" x2="520.3" y2="550.5" stroke="#333" stroke-width="0.9"/>
<line x1="420.3" y1="548.6" x2="520.3" y2="548.6" stroke="#4a4a4a" stroke-width="1"/>
<polygon points="420.3,548.6 427.5,546.85 427.5,550.35" fill="#1a1a1a"/>
<polygon points="520.3,548.6 513.1,546.85 513.1,550.35" fill="#1a1a1a"/>
<text x="472.8" y="544.7" font-size="9" text-anchor="middle" font-weight="normal" fill="#222" stroke="#222" stroke-width="0.28">80</text>
<line x1="376.8" y1="253.3" x2="390" y2="253.3" stroke="#4a4a4a" stroke-width="1"/>
<line x1="376.8" y1="530.8" x2="390" y2="530.8" stroke="#4a4a4a" stroke-width="1"/>
<line x1="378.5" y1="253.3" x2="378.5" y2="530.8" stroke="#4a4a4a" stroke-width="1"/>
<polygon points="378.5,253.3 376.75,260.5 380.25,260.5" fill="#1a1a1a"/>
<polygon points="378.5,530.8 376.75,523.6 380.25,523.6" fill="#1a1a1a"/>
<text x="377.2" y="388.75" font-size="9" text-anchor="middle" font-weight="normal" fill="#222" transform="rotate(-90 377.2 388.75)" stroke="#222" stroke-width="0.28">222</text>
<line x1="564.4" y1="265.6" x2="564.4" y2="525.6" stroke="#4a4a4a" stroke-width="1"/>
<polygon points="564.4,265.6 562.65,272.8 566.15,272.8" fill="#1a1a1a"/>
<polygon points="564.4,525.6 562.65,518.4 566.15,518.4" fill="#1a1a1a"/>
<text x="563.5" y="393.4" font-size="9" text-anchor="middle" font-weight="normal" fill="#222" transform="rotate(-90 563.5 393.4)" stroke="#222" stroke-width="0.28">208</text>
<text x="474.75" y="573.1" font-size="12.8" text-anchor="middle" font-weight="normal" fill="#1a1a1a" textLength="63.2" lengthAdjust="spacingAndGlyphs" stroke="#1a1a1a" stroke-width="0.28">30 - 75кВт</text>
</g>
</g>
</svg>
</body></html>
